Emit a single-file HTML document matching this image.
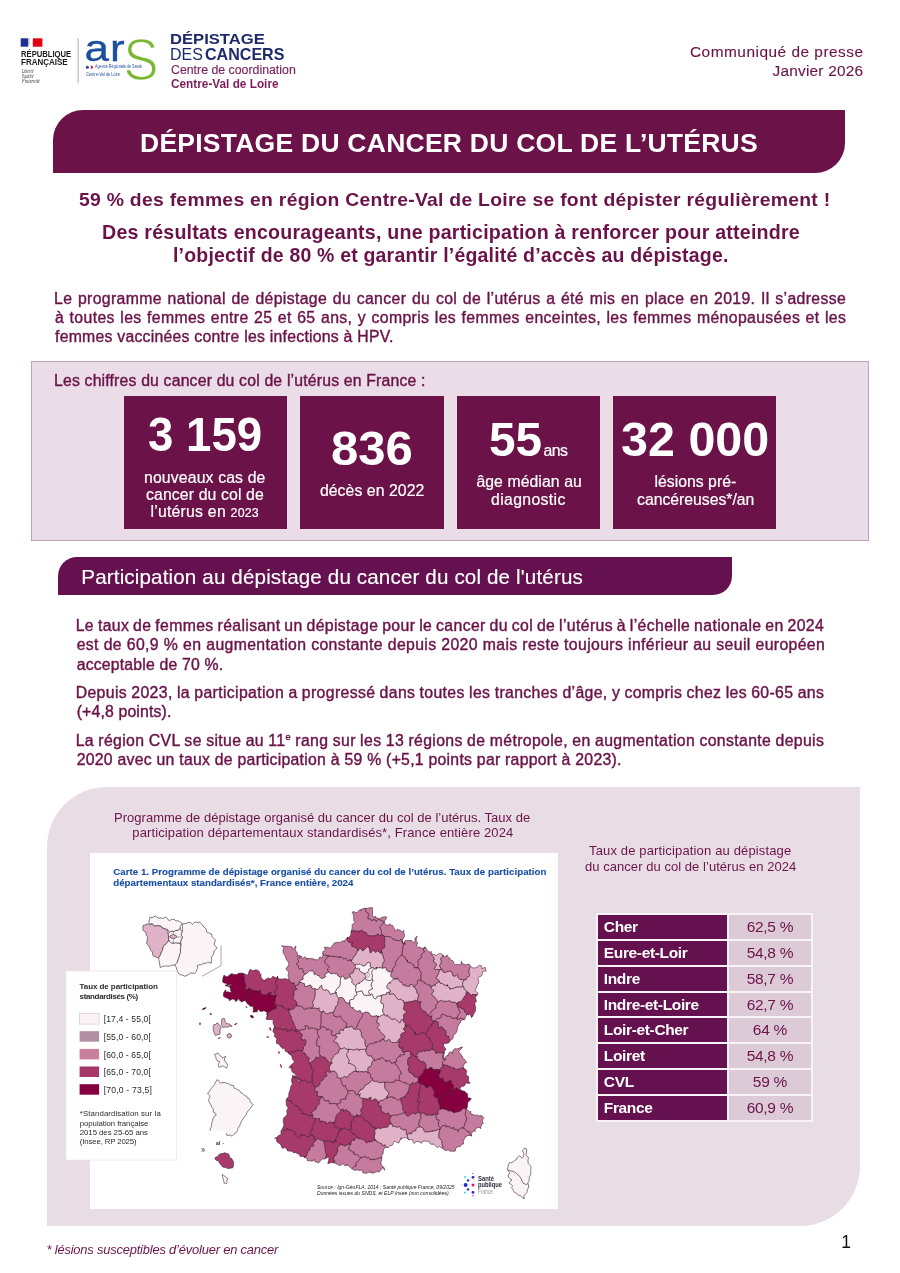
<!DOCTYPE html>
<html lang="fr"><head><meta charset="utf-8"><title>Dépistage du cancer du col de l’utérus</title>
<style>
*{margin:0;padding:0;box-sizing:border-box}
html,body{width:900px;height:1273px;background:#fff;overflow:hidden}
body{position:relative;font-family:"Liberation Sans",sans-serif;color:#6b1349}
.t{position:absolute;white-space:pre}
.b{position:absolute}
.card{position:absolute;background:#6b1349;top:396.2px;height:132.4px}
table{position:absolute;left:596.3px;top:913.2px;border-collapse:separate;border-spacing:2px;background:#f8f3f6;font-size:15.5px}
td{height:23.8px;padding:1px 0 0 0;line-height:22.8px;vertical-align:middle}
td.n{width:128.6px;background:#65104f;color:#fff;font-weight:700;padding-left:5.5px;letter-spacing:-0.35px}
td.v{width:82px;background:#dccbd7;text-align:center;color:#6b1349;letter-spacing:-0.3px}
</style></head><body>

<div class="b" style="left:53px;top:110px;width:791.5px;height:63.3px;background:#6b1349;border-radius:30px 0 30px 0"></div>
<div class="b" style="left:31px;top:361px;width:838px;height:179.5px;background:#eadde7;border:1px solid #c3a0ba"></div>
<div class="card" style="left:123.7px;width:163px"></div>
<div class="card" style="left:299.7px;width:144.2px"></div>
<div class="card" style="left:456.6px;width:143.7px"></div>
<div class="card" style="left:613.2px;width:162.4px"></div>
<div class="b" style="left:57.9px;top:557.2px;width:673.7px;height:37.4px;background:#65104f;border-radius:19px 0 19px 0"></div>
<div class="b" style="left:46.7px;top:786.7px;width:813.5px;height:439.4px;background:#e9dde5;border-radius:60px 0 60px 0"></div>
<div class="b" style="left:90px;top:853.4px;width:468px;height:356px;background:#fff"></div>


<svg class="b" style="left:0;top:0" width="330" height="100" viewBox="0 0 330 100">
<rect x="20.7" y="38.3" width="7.6" height="8.4" fill="#1f2f8f"/>
<rect x="33" y="38.3" width="9.4" height="8.4" fill="#e1000f"/>
<path d="M28.3,38.3 L30.5,38.3 C29.5,40 29.5,41.5 30.3,43 C29.5,44.5 29,45.5 28.3,46.7Z" fill="#c9c9d6"/>
<path d="M33,38.3 C31.8,40 32.6,41.5 32,43 C32.6,44.5 32.2,45.7 33,46.7Z" fill="#f3b8bc"/>
<rect x="77.7" y="38" width="0.8" height="45.3" fill="#9b9b9b"/>
<text transform="translate(84.4,60.5) scale(1.19,1)" x="0" y="0" font-family="Liberation Sans, sans-serif" font-size="37" fill="#1b4f9c" stroke="#1b4f9c" stroke-width="0.35" letter-spacing="1">ar</text>
<text transform="translate(123.2,80) scale(0.9,1)" x="0" y="0" font-family="Liberation Sans, sans-serif" font-size="59" fill="#7ab733" stroke="#fff" stroke-width="1.5">S</text>
<circle cx="87.4" cy="67.3" r="1.5" fill="#1f3fae"/>
<path d="M90.3,65.8 L92,65.8 L93.3,67.3 L92,68.8 L90.3,68.8 L91.5,67.3Z" fill="#e1000f"/>
</svg>

<svg class="b" style="left:0;top:0" width="900" height="1273" viewBox="0 0 900 1273">
<g stroke="#3d1429" stroke-width="0.55" stroke-linejoin="round">
<path d="M431.7,1049.1 430.3,1050.3 427.8,1050.5 425.8,1049.9 425.4,1050.3 425.5,1051.3 424.7,1051.0 423.1,1050.6 421.5,1051.5 420.5,1052.1 419.8,1051.3 418.6,1051.8 416.7,1054.8 414.8,1056.6 413.2,1055.1 415.2,1056.4 417.2,1056.3 417.5,1056.6 416.9,1058.1 417.6,1059.3 419.0,1059.7 419.4,1060.2 419.7,1061.1 421.5,1061.6 423.7,1062.1 425.1,1063.3 425.6,1064.4 425.9,1065.3 425.8,1067.1 426.2,1069.2 427.1,1069.5 428.5,1068.8 431.0,1067.3 431.8,1067.7 432.5,1069.1 433.3,1069.5 433.2,1069.8 434.0,1069.8 436.9,1069.4 439.4,1069.8 440.4,1070.6 440.0,1069.9 440.5,1068.4 442.3,1067.2 443.8,1066.7 443.5,1066.4 442.4,1065.6 442.7,1064.4 442.6,1062.5 443.6,1060.9 445.1,1059.8 446.1,1059.2 445.8,1059.2 444.5,1059.2 443.2,1058.7 442.7,1057.4 443.1,1055.4 443.7,1053.2 443.3,1052.6 441.3,1052.8 438.7,1052.7 437.0,1052.6 436.0,1053.4 435.8,1053.4 436.0,1051.7 434.8,1050.5 433.3,1049.8 432.1,1049.3 431.7,1049.0Z" fill="#c47b9d"/>
<path d="M402.1,954.4 402.3,953.8 402.3,953.1 402.3,952.4 402.3,951.6 402.6,949.7 403.0,947.5 403.4,945.2 404.2,943.7 405.1,943.5 405.4,944.0 404.8,944.3 402.6,943.1 401.4,940.1 400.8,939.0 400.1,940.1 399.6,940.7 397.6,940.5 394.7,939.9 393.9,938.6 394.0,938.5 392.7,939.0 391.5,937.9 390.5,936.6 388.2,936.6 386.1,936.4 385.1,936.3 384.3,936.6 384.4,938.5 384.8,939.8 384.8,940.5 384.5,941.4 384.3,943.3 384.6,945.5 384.9,947.0 384.3,947.5 382.9,948.0 381.6,949.5 381.4,951.7 381.8,951.7 382.2,953.0 382.5,953.8 382.6,954.5 382.9,956.0 383.4,957.9 384.1,959.7 384.2,960.8 383.7,961.7 382.8,963.1 382.3,965.3 382.3,967.4 382.9,968.3 385.0,967.7 386.3,968.3 386.5,970.1 386.9,970.7 387.5,971.0 388.8,972.0 391.5,971.8 392.8,970.4 393.0,969.0 392.9,968.2 393.6,967.6 394.9,966.6 395.8,965.4 395.7,964.3 395.5,963.3 396.0,961.9 397.0,960.2 398.0,958.7 398.7,957.7 399.5,957.1 400.5,956.1 401.3,954.9Z" fill="#c47b9d"/>
<path d="M374.5,1060.3 374.4,1060.9 375.6,1060.2 378.3,1059.1 379.6,1059.5 379.4,1059.9 380.1,1058.6 382.3,1057.8 384.3,1059.5 385.5,1060.6 386.4,1060.6 386.2,1060.7 385.8,1061.5 386.7,1061.3 389.1,1060.7 390.5,1061.5 391.0,1063.2 392.6,1063.3 394.9,1062.3 396.9,1061.2 397.0,1061.5 396.2,1060.9 397.0,1058.4 399.5,1056.3 400.7,1056.2 399.9,1056.6 399.8,1055.7 401.8,1054.7 404.2,1054.8 404.7,1054.5 404.3,1052.6 403.0,1052.1 402.0,1050.8 402.4,1048.7 403.2,1047.5 402.4,1047.9 400.3,1048.3 398.9,1046.9 399.0,1044.5 399.7,1043.1 399.8,1042.6 399.1,1042.1 397.6,1042.1 394.6,1042.5 392.0,1042.6 391.3,1041.8 391.0,1041.4 389.9,1040.8 389.3,1039.4 388.9,1039.2 387.1,1040.6 385.0,1041.2 384.3,1040.2 384.0,1039.0 382.4,1039.0 380.7,1040.0 380.7,1040.6 381.1,1040.7 379.5,1041.2 376.6,1042.2 375.4,1042.4 376.1,1041.8 376.0,1041.9 373.8,1043.1 371.6,1043.8 370.4,1043.5 369.7,1043.5 368.5,1044.6 367.4,1046.1 366.6,1047.4 366.5,1048.6 366.3,1049.2 366.0,1049.1 365.6,1049.0 366.0,1049.3 365.7,1050.4 365.6,1051.9 366.5,1053.3 367.5,1055.0 368.6,1056.2 370.0,1056.0 371.2,1055.9 371.8,1057.3 372.9,1059.0 374.3,1059.6Z" fill="#c47b9d"/>
<path d="M440.7,1128.0 441.6,1126.5 442.9,1125.6 445.6,1125.4 446.9,1126.1 445.9,1127.1 445.7,1127.1 447.9,1126.5 450.2,1127.3 451.2,1128.6 452.5,1128.2 453.3,1127.2 453.4,1127.6 453.8,1129.2 456.7,1129.7 458.5,1130.6 457.8,1131.5 457.9,1130.6 460.2,1128.4 462.3,1127.9 462.9,1128.6 463.5,1128.3 463.4,1127.9 463.9,1126.9 464.5,1125.4 464.8,1124.0 465.1,1123.4 465.6,1122.8 466.2,1121.3 466.6,1119.0 466.4,1116.9 465.9,1115.8 465.4,1115.3 465.3,1114.1 465.6,1111.9 466.0,1109.7 466.3,1108.7 465.0,1108.6 465.8,1108.5 466.5,1108.5 464.4,1108.2 463.2,1108.0 463.1,1108.4 462.1,1109.5 460.5,1110.7 460.2,1111.1 459.8,1111.2 457.2,1111.8 453.9,1112.4 453.0,1112.2 453.5,1110.9 453.4,1111.5 452.4,1111.5 450.9,1110.8 448.7,1110.8 447.8,1110.6 447.7,1109.7 445.6,1109.4 443.0,1108.8 442.2,1108.5 441.5,1109.3 440.3,1109.0 439.9,1109.2 438.6,1109.9 437.7,1111.8 438.0,1113.6 438.3,1114.0 437.4,1113.9 435.8,1114.7 436.0,1117.0 436.4,1119.1 437.2,1120.2 438.3,1120.0 438.9,1119.8 438.8,1120.7 438.4,1122.9 438.5,1125.5 439.5,1127.2Z" fill="#c47b9d"/>
<path d="M440.3,1109.0 441.5,1109.3 442.2,1108.5 443.0,1108.8 445.6,1109.4 447.7,1109.7 447.8,1110.6 448.7,1110.8 450.9,1110.8 452.4,1111.5 453.4,1111.5 453.5,1110.9 453.0,1112.2 453.9,1112.4 457.2,1111.8 459.8,1111.2 460.2,1111.1 460.5,1110.7 462.1,1109.5 463.1,1108.4 463.2,1108.0 464.4,1108.2 466.5,1108.5 467.2,1107.8 467.5,1105.9 467.6,1103.8 468.0,1102.2 469.0,1101.2 470.4,1100.1 471.2,1098.7 470.7,1098.2 469.5,1098.1 468.3,1097.9 467.6,1097.1 467.5,1095.8 467.7,1094.3 467.2,1093.6 466.2,1093.0 465.1,1091.8 463.5,1091.5 462.1,1092.2 462.2,1092.2 462.4,1091.5 460.4,1090.5 457.7,1088.9 456.6,1087.5 455.8,1088.2 454.3,1089.5 453.2,1089.8 452.6,1088.9 451.7,1089.7 450.6,1092.4 449.4,1093.8 447.8,1092.9 446.3,1092.3 445.7,1093.7 445.3,1095.5 443.9,1096.0 442.3,1096.0 442.0,1096.4 442.3,1096.8 441.2,1097.4 439.3,1098.8 438.3,1100.4 438.1,1101.6 438.0,1102.1 438.3,1102.4 438.8,1103.2 439.3,1104.8 439.7,1107.0Z" fill="#86003f"/>
<path d="M463.5,1128.3 464.5,1128.4 465.4,1129.6 466.8,1131.1 468.2,1131.5 469.1,1131.5 469.4,1132.6 470.1,1134.4 471.7,1135.9 471.3,1134.5 472.2,1132.1 474.5,1130.9 475.6,1131.2 475.0,1130.8 475.5,1128.8 478.1,1127.3 480.4,1127.7 480.8,1128.8 480.4,1128.3 481.1,1126.1 482.0,1123.9 483.0,1123.0 483.4,1123.2 483.1,1123.5 482.5,1122.7 482.3,1120.9 482.8,1119.3 483.5,1118.6 483.9,1118.2 482.7,1116.6 481.8,1115.5 480.1,1115.8 478.3,1115.7 477.1,1114.9 475.7,1115.2 474.4,1115.5 474.2,1115.1 473.0,1114.6 470.9,1113.7 470.7,1112.0 471.0,1111.5 469.5,1111.8 467.8,1110.3 466.3,1108.7 466.0,1109.7 465.6,1111.9 465.3,1114.1 465.4,1115.3 465.9,1115.8 466.4,1116.9 466.6,1119.0 466.2,1121.3 465.6,1122.8 465.1,1123.4 464.8,1124.0 464.5,1125.4 463.9,1126.9 463.4,1127.9Z" fill="#c47b9d"/>
<path d="M421.0,1083.7 419.8,1083.5 418.7,1082.8 418.2,1081.5 418.2,1081.3 417.0,1082.0 414.7,1083.4 413.2,1083.4 413.0,1082.2 412.7,1082.2 411.1,1084.3 409.7,1086.2 408.9,1087.2 409.1,1087.6 409.0,1088.9 408.2,1091.2 407.5,1093.0 407.8,1093.0 408.2,1092.4 407.4,1093.0 405.6,1094.9 404.6,1096.6 405.4,1097.0 404.6,1096.9 402.2,1097.3 400.3,1098.6 400.8,1100.6 401.2,1102.5 401.5,1103.7 401.9,1104.1 402.2,1104.5 402.4,1105.5 402.5,1107.5 402.9,1109.7 403.6,1111.3 404.6,1112.1 405.3,1112.2 405.6,1112.5 404.9,1113.5 405.5,1114.5 406.8,1115.8 407.8,1116.0 409.7,1115.3 411.5,1113.8 412.3,1113.1 413.5,1113.6 415.5,1113.9 416.7,1113.4 416.4,1112.8 416.5,1112.5 418.6,1112.4 418.8,1111.7 418.7,1111.1 418.4,1109.8 418.1,1107.6 418.2,1105.4 418.9,1103.8 419.7,1102.7 420.4,1101.7 419.4,1101.6 417.8,1101.7 417.4,1100.1 417.8,1098.8 418.7,1098.2 419.3,1097.6 419.2,1096.2 418.9,1094.0 418.9,1091.9 419.5,1090.6 420.1,1089.7 420.2,1088.5 420.1,1086.9 420.4,1085.3 420.8,1084.3Z" fill="#a73a6b"/>
<path d="M404.8,944.3 405.4,944.0 405.1,943.5 404.2,943.7 403.4,945.2 403.0,947.5 402.6,949.7 402.3,951.6 402.3,952.4 402.3,953.1 402.3,953.8 402.1,954.4 403.0,956.1 404.4,957.3 405.5,957.7 405.6,958.7 405.9,960.1 407.1,960.5 407.9,960.2 407.2,960.7 407.0,961.9 408.9,962.7 411.4,963.3 412.7,964.2 413.2,964.9 413.7,964.8 413.7,966.0 414.4,967.9 416.6,967.9 417.6,966.6 418.7,965.1 418.7,963.6 418.0,962.1 418.1,960.5 419.7,959.0 421.5,958.1 422.0,957.6 421.4,957.0 421.1,955.7 422.1,953.9 423.8,952.2 424.8,951.7 424.3,951.6 423.3,950.6 423.5,948.8 425.5,947.5 425.3,946.9 425.0,946.7 424.3,947.6 422.3,948.5 420.8,947.8 419.6,947.1 417.6,947.2 416.5,946.3 417.1,944.4 417.7,943.1 417.7,942.5 417.2,942.0 416.3,941.2 416.1,939.9 416.2,939.1 416.4,938.5 416.9,937.6 417.0,936.1 416.3,937.2 415.4,937.7 415.0,938.5 414.9,940.1 414.7,942.1 413.9,943.2 412.2,941.1 410.5,940.2 410.5,940.0 410.7,940.3 409.4,940.6 407.0,940.4 405.2,940.6 404.3,942.1 404.5,943.7Z" fill="#c47b9d"/>
<path d="M340.2,1143.2 340.5,1144.5 339.7,1145.3 338.3,1146.4 337.5,1148.3 337.5,1150.2 337.8,1151.5 337.5,1152.3 336.9,1152.9 336.6,1153.7 336.1,1154.6 335.1,1155.8 333.8,1157.2 333.4,1158.8 334.0,1160.3 334.7,1161.7 334.3,1162.9 335.9,1163.2 336.1,1164.0 336.6,1164.0 337.7,1164.2 338.6,1165.3 340.4,1165.4 342.5,1164.0 343.4,1163.9 344.3,1165.3 346.2,1165.8 346.8,1164.9 346.8,1164.3 347.1,1164.0 346.9,1164.9 348.0,1165.5 349.6,1166.6 350.8,1168.0 351.8,1168.8 352.4,1168.6 353.7,1167.0 355.8,1166.1 356.6,1165.8 356.1,1165.1 355.9,1163.8 356.8,1162.3 358.0,1161.6 358.5,1161.2 358.8,1160.1 359.9,1158.6 361.6,1157.6 359.4,1156.9 358.1,1155.3 357.5,1154.4 355.7,1154.7 354.0,1154.2 354.0,1152.5 354.2,1151.9 353.6,1152.2 352.4,1151.6 350.7,1150.3 348.7,1149.6 349.0,1147.5 349.8,1145.2 350.4,1143.9 348.9,1143.9 346.0,1145.3 344.4,1145.9 344.4,1145.5 343.3,1145.1 341.1,1144.5 340.0,1143.3Z" fill="#c47b9d"/>
<path d="M397.5,978.0 396.0,978.3 395.7,979.1 396.2,978.9 394.7,978.8 392.5,979.9 390.3,982.0 390.1,983.2 390.4,982.8 389.0,982.6 387.6,984.4 386.6,986.2 386.8,987.7 388.2,988.9 389.9,990.0 390.6,991.0 390.2,991.9 390.1,992.1 388.8,993.2 389.1,994.4 391.7,994.2 393.8,993.9 394.4,994.7 395.1,996.0 396.5,997.4 397.4,999.0 398.4,999.7 399.9,999.4 400.8,999.1 401.6,1000.1 403.0,1000.7 403.7,1000.8 403.7,1000.9 403.4,1001.8 403.8,1002.5 406.6,1002.3 409.5,1001.9 411.2,1001.8 412.4,1001.2 413.0,1000.9 413.1,1001.7 413.6,1001.7 414.5,1000.5 415.6,1000.3 417.8,1001.5 418.3,1001.7 417.5,1000.5 417.8,998.3 418.5,995.8 418.9,994.3 418.6,993.9 417.8,993.8 417.1,993.2 416.8,991.8 416.6,990.2 416.0,989.0 415.0,988.2 414.2,987.3 413.6,986.1 412.2,984.3 410.0,984.5 409.5,985.7 410.0,986.2 408.3,986.1 405.3,985.9 404.9,984.6 404.9,984.5 403.9,985.2 402.8,984.8 402.4,983.2 401.7,982.3 400.0,981.8 398.5,980.1Z" fill="#dfb2c7"/>
<path d="M358.1,1137.4 357.9,1137.6 357.2,1137.1 356.2,1137.5 354.7,1139.2 354.3,1140.4 354.6,1139.8 353.7,1139.4 351.6,1141.3 350.4,1144.0 350.6,1144.6 350.4,1143.9 349.8,1145.2 349.0,1147.5 348.7,1149.6 350.7,1150.3 352.4,1151.6 353.6,1152.2 354.2,1151.9 354.0,1152.5 354.0,1154.2 355.7,1154.7 357.5,1154.4 358.1,1155.3 359.4,1156.9 361.6,1157.6 362.9,1157.4 362.8,1157.7 363.2,1157.4 364.4,1156.6 365.2,1156.2 366.1,1157.6 367.5,1157.9 368.8,1157.5 369.4,1158.0 369.9,1159.6 372.0,1159.7 373.6,1159.1 373.5,1159.2 373.3,1159.8 374.9,1159.5 377.4,1158.6 378.9,1158.3 379.9,1158.1 381.1,1157.5 381.8,1157.4 381.9,1155.8 382.3,1154.6 382.9,1154.1 383.1,1154.0 383.2,1152.8 383.3,1151.2 383.7,1149.7 384.2,1148.9 384.2,1148.5 384.3,1147.6 385.3,1147.6 387.2,1147.6 385.4,1145.8 385.2,1144.5 384.2,1145.3 382.7,1145.5 382.0,1144.0 380.9,1143.1 379.5,1142.9 378.8,1142.2 378.2,1141.9 377.3,1142.0 377.1,1141.2 376.0,1140.2 372.7,1140.8 369.7,1141.9 369.4,1142.0 370.0,1141.2 368.8,1141.3 366.6,1142.9 365.9,1142.2 365.6,1141.2 364.8,1140.8 364.0,1140.1 362.9,1139.1 360.4,1138.8 358.0,1138.5 357.7,1137.7Z" fill="#c47b9d"/>
<path d="M378.9,1103.6 378.8,1101.6 377.1,1100.0 375.4,1098.8 374.3,1099.1 372.1,1100.6 370.5,1100.3 371.2,1098.7 371.0,1097.2 368.9,1097.9 367.6,1099.0 367.0,1098.9 365.0,1098.3 362.6,1098.4 362.9,1099.7 362.7,1101.7 362.2,1103.5 362.3,1104.4 362.9,1105.0 362.9,1106.2 361.8,1108.1 360.6,1109.9 360.5,1111.1 361.2,1112.1 361.5,1113.3 360.4,1114.8 358.9,1116.1 361.0,1116.4 362.0,1117.2 363.4,1117.8 364.4,1118.6 364.2,1120.3 364.7,1121.2 366.6,1121.2 366.8,1121.3 368.5,1122.4 369.8,1123.9 370.8,1124.2 370.7,1124.5 370.5,1126.0 372.0,1127.2 374.4,1127.3 375.3,1127.9 375.1,1129.5 376.5,1129.1 378.3,1127.9 379.4,1128.0 379.9,1129.0 380.5,1129.0 381.4,1128.1 383.1,1127.7 385.9,1127.6 388.1,1126.8 388.3,1126.0 388.0,1125.8 388.7,1124.9 390.0,1124.3 391.3,1123.9 391.5,1123.2 391.1,1122.6 390.2,1121.6 389.6,1120.2 389.9,1118.7 390.7,1117.5 391.2,1116.3 390.6,1115.3 389.0,1114.6 388.5,1113.1 387.9,1113.0 385.6,1113.8 384.0,1113.0 383.6,1111.9 382.5,1111.7 381.0,1110.5 381.4,1108.5 381.4,1106.7 380.8,1105.8 379.9,1106.1 379.1,1106.5 378.8,1105.7Z" fill="#a73a6b"/>
<path d="M408.6,1139.5 408.8,1139.9 409.9,1140.0 411.8,1139.4 412.8,1140.0 413.0,1142.2 414.0,1143.5 415.1,1142.8 415.9,1141.6 418.1,1141.6 421.0,1142.4 421.6,1143.4 421.4,1143.3 422.1,1141.7 423.9,1140.9 425.1,1141.0 425.4,1141.0 426.1,1141.6 428.0,1141.1 429.3,1141.9 430.4,1143.9 432.4,1144.6 433.4,1144.1 433.0,1143.7 433.2,1143.9 434.3,1144.5 435.5,1146.0 437.0,1147.3 438.7,1147.1 439.8,1146.0 440.0,1146.5 441.0,1147.8 443.0,1148.4 442.9,1146.9 442.6,1145.7 442.3,1145.0 442.2,1144.4 442.1,1143.4 442.0,1141.9 441.5,1140.4 440.7,1139.3 439.7,1138.6 439.0,1137.7 438.8,1135.8 439.1,1133.0 439.7,1130.1 440.1,1128.4 440.0,1128.3 439.2,1129.0 437.0,1129.9 436.1,1130.7 435.6,1130.7 434.0,1130.5 432.4,1130.9 432.3,1131.4 432.5,1131.3 430.5,1131.3 427.5,1132.1 426.6,1131.2 426.5,1131.4 425.2,1132.2 424.1,1130.7 423.5,1128.4 422.3,1127.7 421.2,1127.2 420.0,1126.5 419.1,1126.9 417.8,1127.4 416.2,1128.4 415.6,1129.7 416.1,1130.4 415.9,1130.5 413.7,1131.1 411.4,1132.8 410.8,1134.1 411.0,1133.6 409.7,1133.0 407.3,1134.3 407.2,1136.0 407.8,1137.9Z" fill="#dfb2c7"/>
<path d="M306.2,957.9 305.0,956.7 303.3,958.0 302.2,958.1 301.3,956.3 299.7,957.2 297.9,958.4 297.4,959.6 298.1,960.6 298.6,961.8 297.7,962.9 296.2,963.6 297.5,964.7 298.4,966.5 298.6,968.4 299.5,969.0 301.4,968.5 302.6,968.9 302.8,970.7 303.2,972.2 303.9,973.1 304.7,974.3 305.3,974.4 307.0,973.3 308.8,971.4 309.9,970.6 311.0,971.0 312.7,971.2 313.8,972.2 314.0,973.9 314.3,974.7 315.5,974.2 316.4,974.5 317.2,975.5 318.5,975.6 319.3,975.5 319.6,976.9 321.1,978.5 324.1,978.0 325.6,976.7 325.3,975.5 324.9,974.7 325.8,973.9 327.6,972.7 328.8,972.1 328.0,970.8 327.7,969.4 328.2,968.1 329.1,967.2 329.3,966.5 328.4,965.7 326.7,964.5 325.1,962.9 324.7,961.2 325.4,959.7 326.6,958.3 327.5,956.9 327.4,955.4 325.4,955.3 323.5,954.9 322.8,954.1 322.9,953.4 323.1,954.5 322.9,955.9 322.3,957.3 321.8,958.3 320.5,956.7 319.2,957.5 318.6,959.9 318.2,960.4 317.0,959.5 315.5,959.7 315.1,960.2 314.8,959.6 312.4,958.6 308.3,958.5 306.8,958.6 307.7,959.2 307.4,959.5Z" fill="#c47b9d"/>
<path d="M356.0,1094.6 358.7,1094.9 360.5,1093.9 359.9,1094.5 359.3,1096.6 360.2,1097.8 361.3,1098.2 362.6,1098.4 365.0,1098.3 367.0,1098.9 367.6,1099.0 368.9,1097.9 371.0,1097.2 371.2,1098.7 370.5,1100.3 372.1,1100.6 374.3,1099.1 375.4,1098.8 377.1,1100.0 378.8,1101.6 378.9,1103.6 379.1,1101.9 380.7,1100.1 382.1,1100.4 382.0,1101.2 382.7,1100.3 385.5,1098.5 387.9,1097.9 387.5,1098.0 386.7,1097.4 387.1,1096.2 388.2,1094.9 388.9,1093.7 388.4,1092.4 387.2,1090.9 385.9,1089.4 385.1,1088.4 384.9,1087.9 384.9,1087.3 384.9,1086.2 384.8,1084.3 384.7,1082.1 383.8,1082.0 382.3,1082.3 380.6,1082.6 379.2,1082.2 377.6,1081.9 376.8,1081.3 376.8,1080.9 375.4,1081.3 373.2,1081.0 372.5,1079.5 371.7,1080.2 370.7,1081.1 370.0,1082.2 369.2,1083.1 367.7,1083.9 366.0,1084.6 365.2,1084.9 365.1,1085.4 364.4,1086.8 362.8,1088.9 361.6,1090.0 361.3,1089.4 360.7,1089.2 359.2,1091.3 357.7,1094.2 356.6,1095.1 355.6,1094.2Z" fill="#dfb2c7"/>
<path d="M331.4,1071.6 329.8,1070.2 329.4,1067.8 330.4,1065.1 331.8,1063.3 332.7,1062.7 332.4,1062.9 331.0,1062.9 328.5,1061.9 327.4,1060.0 326.8,1059.4 326.4,1059.2 326.0,1058.1 324.0,1057.1 321.6,1056.4 320.8,1055.6 320.1,1055.6 319.0,1058.2 318.3,1058.6 317.4,1057.2 316.3,1056.8 315.4,1058.3 314.5,1059.8 313.5,1060.3 312.5,1060.9 311.5,1062.2 309.9,1062.8 309.7,1063.2 309.6,1063.6 309.5,1064.3 311.0,1065.4 311.3,1066.9 311.2,1068.3 311.7,1068.6 312.9,1068.7 313.8,1069.6 313.1,1071.0 312.4,1073.3 312.0,1075.7 311.8,1077.2 311.8,1077.9 311.8,1078.4 312.0,1079.3 312.2,1080.6 312.2,1081.5 311.9,1082.0 312.5,1082.9 313.1,1084.5 313.9,1085.9 314.6,1086.6 314.9,1087.7 315.3,1086.5 315.7,1086.8 316.9,1087.0 318.8,1085.9 320.0,1084.1 320.1,1082.7 320.5,1081.6 322.2,1080.5 323.8,1079.5 323.7,1078.7 323.1,1077.9 324.0,1077.2 326.2,1076.7 327.2,1075.8 326.4,1074.2 325.9,1072.3 327.1,1071.5 328.9,1071.8 329.5,1072.8 330.1,1072.7Z" fill="#a73a6b"/>
<path d="M289.2,1067.6 290.7,1068.2 292.5,1067.5 292.8,1067.2 291.8,1068.6 291.5,1070.8 292.8,1072.5 294.3,1073.6 295.3,1074.2 295.6,1074.4 295.7,1074.5 296.1,1075.0 296.7,1076.2 297.5,1077.9 299.0,1079.1 300.6,1079.1 300.9,1079.4 301.2,1080.5 303.3,1080.5 305.3,1080.2 305.9,1081.4 307.1,1082.5 308.9,1082.4 309.7,1082.3 310.5,1082.2 311.9,1082.0 312.2,1081.5 312.2,1080.6 312.0,1079.3 311.8,1078.4 311.8,1077.9 311.8,1077.2 312.0,1075.7 312.4,1073.3 313.1,1071.0 313.8,1069.6 312.9,1068.7 311.7,1068.6 311.2,1068.3 311.3,1066.9 311.0,1065.4 309.5,1064.3 309.6,1063.6 309.7,1063.2 309.9,1062.8 308.5,1062.1 308.5,1060.6 309.3,1058.9 309.3,1057.8 307.9,1057.0 306.3,1055.7 305.5,1054.1 305.1,1053.1 304.1,1052.9 302.9,1052.6 302.3,1051.2 301.7,1050.4 300.7,1050.5 299.1,1050.6 297.9,1050.1 296.6,1050.3 294.9,1051.4 294.4,1051.7 294.7,1051.4 293.6,1051.8 290.8,1052.4 288.6,1052.0 287.6,1051.9 288.1,1052.6 288.9,1054.0 290.3,1054.9 291.5,1055.2 291.9,1056.4 292.0,1057.9 292.5,1059.3 293.3,1060.3 294.1,1061.0 294.4,1061.7 293.7,1062.7 292.4,1063.9 290.8,1065.2 289.7,1066.6ZM292.1,1075.4 292.6,1075.6 292.9,1075.6 292.7,1076.2 292.3,1077.5 295.6,1077.4 296.1,1077.8 295.7,1077.7 296.4,1077.1 295.6,1076.3 295.3,1075.9 295.5,1075.7 295.1,1075.7 293.6,1075.9Z" fill="#a73a6b"/>
<path d="M378.1,1016.1 377.4,1016.1 376.6,1015.9 376.7,1015.3 375.3,1015.9 372.2,1016.3 370.1,1014.7 369.4,1013.4 369.1,1013.4 369.0,1013.0 368.0,1012.3 365.3,1012.1 364.1,1012.7 363.6,1013.4 362.7,1014.5 362.5,1014.9 362.6,1015.3 362.2,1016.5 361.1,1018.2 360.2,1019.3 359.9,1019.5 359.5,1020.4 358.4,1022.8 357.1,1025.6 356.7,1026.9 356.8,1026.9 356.1,1027.2 354.4,1029.0 356.2,1029.6 358.6,1029.1 359.9,1029.6 360.4,1031.5 361.2,1032.5 361.8,1032.3 361.5,1032.5 361.2,1034.2 361.4,1035.8 362.3,1037.4 363.6,1038.6 364.6,1039.5 365.0,1040.1 364.9,1040.9 364.7,1042.2 364.9,1043.9 365.6,1045.8 366.6,1047.4 367.4,1046.1 368.5,1044.6 369.7,1043.5 370.4,1043.5 371.6,1043.8 373.8,1043.1 376.0,1041.9 376.1,1041.8 375.4,1042.4 376.6,1042.2 379.5,1041.2 381.1,1040.7 380.7,1040.6 380.7,1040.0 382.4,1039.0 384.0,1039.0 384.3,1038.2 384.7,1037.5 385.1,1036.9 385.1,1036.6 384.5,1035.7 383.2,1034.2 381.3,1032.7 379.9,1031.3 379.5,1030.0 379.3,1029.2 378.2,1028.7 377.0,1027.7 378.5,1026.1 379.4,1024.5 379.0,1023.5 377.9,1023.2 377.0,1022.8 377.0,1021.3 377.6,1018.7Z" fill="#c47b9d"/>
<path d="M354.8,1091.5 355.0,1092.7 355.6,1094.2 356.6,1095.1 357.7,1094.2 359.2,1091.3 360.7,1089.2 361.3,1089.4 361.6,1090.0 362.8,1088.9 364.4,1086.8 365.1,1085.4 365.2,1084.9 366.0,1084.6 367.7,1083.9 369.2,1083.1 370.0,1082.2 370.7,1081.1 371.7,1080.2 372.5,1079.5 372.9,1078.2 372.6,1078.3 371.6,1078.4 370.8,1077.1 370.6,1075.0 370.1,1073.6 369.0,1072.9 367.8,1072.2 365.8,1071.3 363.4,1071.9 362.7,1072.2 363.1,1071.5 361.4,1071.5 358.7,1071.8 358.2,1071.3 358.4,1070.9 357.6,1071.7 356.8,1071.4 354.3,1071.1 352.3,1072.1 351.6,1073.2 350.8,1073.4 349.5,1073.9 348.6,1075.4 348.0,1076.8 346.6,1076.9 344.7,1076.5 343.8,1076.5 343.7,1076.9 342.8,1077.4 341.0,1078.1 340.3,1079.0 340.7,1079.8 341.1,1080.6 341.4,1081.5 341.7,1082.1 341.9,1084.3 343.2,1086.0 345.2,1085.8 345.8,1085.6 345.5,1086.7 345.9,1088.1 346.7,1089.0 347.1,1090.1 348.2,1090.8 351.1,1090.5 353.4,1090.7 354.0,1091.5 354.3,1091.6Z" fill="#c47b9d"/>
<path d="M417.8,1001.5 415.6,1000.3 414.5,1000.5 413.6,1001.7 413.1,1001.7 413.0,1000.9 412.4,1001.2 411.2,1001.8 409.5,1001.9 406.6,1002.3 403.8,1002.5 403.4,1001.8 404.1,1003.0 404.2,1005.1 403.6,1007.4 403.3,1009.1 404.0,1010.1 405.4,1010.8 406.2,1011.7 405.6,1012.7 404.3,1013.7 403.4,1014.7 403.3,1015.9 403.6,1017.4 403.5,1018.8 402.9,1019.5 402.5,1020.0 403.7,1022.1 405.1,1023.7 405.0,1024.9 405.0,1025.8 405.1,1025.9 406.8,1025.5 408.8,1025.4 409.7,1026.5 410.6,1028.1 412.1,1029.4 413.4,1031.2 414.5,1032.7 415.4,1032.5 415.5,1032.0 414.8,1033.1 415.5,1034.9 418.5,1034.3 420.8,1033.5 421.1,1033.4 421.4,1033.0 422.8,1032.4 424.2,1033.2 425.0,1034.4 425.8,1034.3 426.5,1032.4 427.9,1030.3 428.9,1029.0 428.9,1028.4 428.8,1027.8 429.7,1026.8 430.9,1026.2 431.8,1026.1 431.9,1025.8 432.0,1024.6 432.6,1023.0 433.7,1021.5 433.2,1020.9 431.6,1019.1 431.7,1016.8 432.2,1015.6 431.6,1015.8 429.8,1016.3 428.5,1015.7 428.3,1015.2 427.8,1014.9 426.6,1013.5 425.6,1011.6 424.0,1011.5 423.0,1011.5 422.8,1011.1 422.7,1010.3 422.1,1009.4 420.9,1008.2 420.1,1006.4 420.4,1004.0 421.2,1002.1 421.2,1001.5 419.7,1001.7Z" fill="#a73a6b"/>
<path d="M259.0,971.1 258.0,970.7 257.0,970.0 255.7,969.8 253.6,970.6 251.9,970.7 251.3,969.6 250.1,969.4 249.1,971.0 248.4,973.4 248.1,975.1 247.5,975.2 246.5,974.6 245.3,974.4 244.2,973.5 243.3,973.4 243.6,975.1 244.0,976.7 244.1,978.2 244.0,979.4 244.0,980.7 244.5,982.2 245.3,983.8 245.9,985.0 246.1,985.2 245.5,986.5 245.0,988.6 245.7,989.8 247.4,989.4 248.8,988.6 249.3,988.2 251.1,989.6 253.3,990.7 253.8,991.0 253.6,990.9 255.4,990.6 258.0,991.1 259.0,991.9 259.3,990.9 260.6,989.9 260.5,990.5 260.5,993.2 262.2,994.9 264.9,995.0 265.7,995.3 266.5,994.8 269.0,992.9 271.0,992.2 270.7,993.6 269.9,994.8 270.0,994.9 271.6,995.4 274.9,995.8 276.8,995.7 276.6,995.2 275.5,993.9 274.8,992.1 275.4,990.1 276.9,988.0 277.8,986.3 277.2,985.2 275.9,984.4 275.4,983.3 276.1,981.5 277.2,979.2 277.6,977.3 277.6,976.3 277.5,976.6 276.3,977.7 274.9,977.6 274.0,976.5 272.8,976.2 271.5,978.1 270.6,979.0 270.0,978.5 268.5,977.9 266.1,979.0 264.8,980.6 265.1,981.3 265.0,980.4 263.6,980.0 261.8,978.8 260.9,976.4 261.0,974.3 261.1,973.9 260.7,974.4 260.1,974.3 259.6,973.0Z" fill="#a73a6b"/>
<path d="M347.9,1049.7 348.2,1051.1 347.9,1052.2 347.3,1052.8 346.6,1053.5 346.4,1054.7 347.1,1056.5 348.1,1058.5 349.0,1060.2 349.2,1061.3 348.8,1062.1 348.0,1062.8 348.4,1063.4 350.3,1063.7 352.1,1064.5 353.6,1065.4 355.0,1066.2 355.7,1067.8 355.7,1070.1 356.5,1071.3 357.6,1071.7 358.4,1070.9 358.2,1071.3 358.7,1071.8 361.4,1071.5 363.1,1071.5 362.7,1072.2 363.4,1071.9 365.8,1071.3 367.8,1072.2 368.0,1072.8 368.0,1072.2 368.0,1069.8 368.2,1067.6 368.8,1066.9 370.0,1066.9 371.2,1065.8 371.8,1063.5 372.3,1061.5 373.2,1060.7 374.5,1060.3 374.3,1059.6 372.9,1059.0 371.8,1057.3 371.2,1055.9 370.0,1056.0 368.6,1056.2 367.5,1055.0 366.5,1053.3 365.6,1051.9 365.7,1050.4 366.0,1049.3 365.6,1049.0 362.4,1049.4 359.5,1049.5 359.1,1049.6 359.2,1050.4 358.6,1050.5 358.2,1049.0 357.1,1048.7 354.8,1049.8 352.7,1049.8 350.7,1049.3 348.4,1049.4 347.9,1049.2 348.7,1048.9Z" fill="#dfb2c7"/>
<path d="M340.3,1079.0 339.9,1078.1 339.3,1077.4 338.0,1077.5 337.1,1077.4 337.3,1076.3 337.4,1074.7 336.6,1073.2 335.6,1071.9 334.7,1071.0 333.0,1071.1 331.4,1071.6 330.1,1072.7 329.5,1072.8 328.9,1071.8 327.1,1071.5 325.9,1072.3 326.4,1074.2 327.2,1075.8 326.2,1076.7 324.0,1077.2 323.1,1077.9 323.7,1078.7 323.8,1079.5 322.2,1080.5 320.5,1081.6 320.1,1082.7 320.0,1084.1 318.8,1085.9 316.9,1087.0 315.7,1086.8 315.3,1086.5 314.9,1087.7 314.7,1089.2 314.7,1090.6 315.8,1091.5 317.4,1091.6 317.7,1092.0 317.0,1093.9 317.5,1096.1 320.0,1096.8 322.2,1096.7 322.4,1097.0 322.7,1096.9 323.2,1097.8 323.8,1099.6 325.0,1101.0 326.8,1100.9 328.5,1100.3 329.0,1101.2 329.3,1103.4 330.1,1104.3 330.5,1103.5 331.1,1103.5 334.2,1103.6 337.1,1104.0 337.0,1105.2 336.8,1105.7 337.1,1104.3 339.3,1103.2 341.1,1102.5 340.9,1101.5 340.0,1100.2 341.1,1099.3 343.9,1099.3 345.8,1099.1 345.9,1097.8 346.0,1095.9 347.4,1094.6 348.6,1094.2 348.4,1093.6 347.7,1092.2 348.2,1090.8 347.1,1090.1 346.7,1089.0 345.9,1088.1 345.5,1086.7 345.8,1085.6 345.2,1085.8 343.2,1086.0 341.9,1084.3 341.7,1082.1 341.4,1081.5 341.1,1080.6 340.7,1079.8Z" fill="#c47b9d"/>
<path d="M445.7,1031.0 445.9,1032.5 445.9,1034.3 445.7,1036.0 447.8,1036.4 448.9,1036.5 448.7,1037.2 448.7,1038.2 449.6,1039.1 450.4,1040.3 451.2,1039.5 452.1,1039.1 452.9,1038.7 453.2,1037.6 453.3,1036.1 453.8,1034.8 454.7,1034.2 455.6,1033.6 456.4,1032.4 457.0,1030.7 457.3,1029.1 457.5,1027.6 458.3,1025.7 459.5,1023.6 460.6,1022.2 460.9,1022.0 460.6,1021.8 460.9,1020.6 462.7,1019.7 464.3,1019.7 462.9,1018.8 461.3,1018.2 459.0,1018.9 457.1,1019.2 457.4,1019.1 457.9,1017.9 456.5,1017.9 454.7,1018.3 453.5,1018.0 452.2,1018.0 451.2,1017.7 450.7,1016.5 448.6,1016.2 446.1,1016.0 445.7,1015.2 445.1,1015.0 443.6,1014.4 441.8,1014.1 441.1,1015.5 441.3,1017.3 440.6,1018.0 438.6,1018.1 436.8,1018.8 436.2,1019.9 435.3,1020.4 433.2,1020.9 433.7,1021.5 436.4,1021.7 437.7,1021.9 438.1,1022.5 438.3,1023.8 438.1,1026.3 438.4,1028.0 440.0,1027.5 441.5,1026.5 442.3,1027.3 443.4,1029.0 444.9,1029.9Z" fill="#c47b9d"/>
<path d="M432.5,1087.4 432.4,1086.9 430.9,1086.5 429.6,1085.5 429.4,1085.5 428.3,1087.2 426.2,1087.7 424.8,1085.8 423.5,1084.2 422.4,1084.1 422.0,1083.8 421.0,1083.7 420.8,1084.3 420.4,1085.3 420.1,1086.9 420.2,1088.5 420.1,1089.7 419.5,1090.6 418.9,1091.9 418.9,1094.0 419.2,1096.2 419.3,1097.6 418.7,1098.2 417.8,1098.8 417.4,1100.1 417.8,1101.7 419.4,1101.6 420.4,1101.7 419.7,1102.7 418.9,1103.8 418.2,1105.4 418.1,1107.6 418.4,1109.8 418.7,1111.1 418.8,1111.7 418.6,1112.4 420.3,1113.4 421.4,1113.9 421.8,1113.6 422.9,1112.8 424.3,1113.8 426.2,1115.4 428.4,1115.1 429.1,1114.8 430.0,1115.4 432.3,1115.2 433.2,1114.6 432.6,1114.6 433.6,1114.4 435.8,1114.7 437.4,1113.9 438.3,1114.0 438.0,1113.6 437.7,1111.8 438.6,1109.9 439.9,1109.2 440.3,1109.0 439.7,1107.0 439.3,1104.8 438.8,1103.2 438.3,1102.4 438.0,1102.1 438.1,1101.6 438.3,1100.4 438.4,1098.9 437.7,1097.9 436.2,1097.4 434.7,1096.8 434.0,1095.5 434.2,1093.8 434.6,1092.3 434.5,1091.3 433.8,1090.4 433.0,1089.1Z" fill="#a73a6b"/>
<path d="M328.8,972.1 330.0,973.4 332.1,973.9 334.0,973.0 334.4,973.4 335.3,974.0 336.9,973.5 337.2,974.3 337.5,975.5 338.9,976.5 340.8,977.4 341.8,976.8 342.2,976.3 343.1,976.0 343.9,977.1 344.5,979.0 346.3,979.1 349.0,977.3 350.4,976.4 350.3,976.1 349.5,975.2 349.9,973.9 351.5,973.2 352.8,973.1 353.2,972.4 353.7,970.7 354.8,968.9 355.8,967.9 355.7,966.5 355.1,964.7 354.1,963.9 353.3,963.2 352.8,962.4 352.1,961.7 351.3,961.1 350.7,960.9 350.9,959.6 349.7,959.9 347.5,960.6 346.7,959.4 345.9,958.2 343.7,958.8 342.8,958.4 342.1,957.4 340.9,956.9 339.5,956.7 339.4,957.6 339.9,957.1 337.7,956.8 335.2,956.8 335.0,956.3 334.4,956.3 331.5,956.3 328.8,955.7 328.1,955.9 328.5,956.4 328.8,955.7 327.4,955.4 327.5,956.9 326.6,958.3 325.4,959.7 324.7,961.2 325.1,962.9 326.7,964.5 328.4,965.7 329.3,966.5 329.1,967.2 328.2,968.1 327.7,969.4 328.0,970.8Z" fill="#c47b9d"/>
<path d="M340.8,977.4 340.5,979.3 340.2,980.3 340.1,980.6 340.2,981.4 340.2,983.5 339.7,985.8 339.0,987.2 338.5,987.3 337.9,987.5 337.0,988.7 335.8,990.6 335.1,992.1 335.4,993.0 335.8,993.1 336.2,994.2 337.0,995.7 338.0,997.3 338.7,998.8 338.9,998.6 339.7,997.9 341.9,997.4 343.7,998.8 344.7,1001.1 345.7,1001.9 346.0,1002.0 346.2,1002.9 348.0,1003.3 349.9,1002.7 350.0,1003.2 349.8,1001.5 349.9,1000.1 350.9,999.6 352.6,999.5 353.8,999.0 354.3,997.6 354.4,996.4 355.2,995.8 356.4,995.5 357.0,994.8 356.5,993.4 356.3,992.1 355.6,990.6 355.8,988.8 356.1,987.6 355.9,987.3 355.9,985.8 355.0,985.4 354.0,984.3 352.7,983.3 351.8,982.2 352.1,980.8 352.3,979.7 351.4,978.9 350.5,977.6 350.4,976.4 349.0,977.3 346.3,979.1 344.5,979.0 343.9,977.1 343.1,976.0 342.2,976.3 341.8,976.8Z" fill="#fbf4f6"/>
<path d="M225.4,985.9 225.7,986.0 227.2,986.0 229.4,986.6 230.4,988.8 230.8,991.3 231.9,992.3 229.4,992.2 227.2,991.8 226.3,991.9 225.9,991.5 225.8,990.0 225.3,990.0 223.6,992.9 224.4,992.4 223.4,993.8 223.4,996.2 225.2,997.5 226.9,998.0 227.6,998.4 228.3,998.9 229.4,999.8 229.4,1000.9 229.7,1000.5 232.3,999.0 234.8,999.4 235.6,1001.5 236.5,1001.2 238.4,998.8 239.0,998.8 239.6,1000.4 241.2,1001.6 242.0,1002.1 242.5,1001.7 243.0,1000.1 244.1,1000.1 245.2,1000.4 245.8,999.3 245.9,997.1 246.2,995.0 247.2,994.0 248.7,993.3 249.7,992.0 249.5,990.2 248.8,988.6 247.4,989.4 245.7,989.8 245.0,988.6 245.5,986.5 246.1,985.2 245.9,985.0 245.3,983.8 244.5,982.2 244.0,980.7 244.0,979.4 244.1,978.2 244.0,976.7 243.6,975.1 243.3,973.4 242.6,973.5 242.4,973.1 240.7,973.2 238.3,973.3 238.5,973.4 238.9,973.6 236.5,974.4 233.5,974.4 232.4,973.7 231.8,973.7 230.7,974.1 229.7,974.7 228.7,975.9 226.8,976.7 225.0,976.2 224.4,975.1 223.8,975.4 223.3,976.8 222.9,978.8 222.7,980.1 222.7,980.7 222.7,981.1 222.7,982.1 224.1,983.0 226.1,983.2 226.7,984.1 227.4,985.0 229.2,984.7 231.1,984.5 232.9,984.6 231.1,985.2 229.5,985.7 227.8,985.7 226.4,985.0 225.7,984.7Z" fill="#86003f"/>
<path d="M405.6,1112.5 405.2,1112.1 402.5,1113.1 400.0,1114.3 399.4,1114.4 399.0,1114.4 397.3,1114.9 395.6,1115.1 394.8,1114.7 393.7,1114.9 391.9,1115.7 391.0,1116.2 391.2,1116.3 390.7,1117.5 389.9,1118.7 389.6,1120.2 390.2,1121.6 391.1,1122.6 391.5,1123.2 391.3,1123.9 392.3,1124.9 392.2,1126.2 392.9,1126.6 394.8,1126.4 396.3,1127.2 397.7,1127.5 399.1,1126.3 399.5,1126.5 400.6,1128.7 403.4,1130.1 405.1,1130.0 405.0,1129.4 405.6,1129.6 406.1,1130.2 406.3,1131.6 406.2,1133.3 406.4,1134.3 407.3,1134.3 409.7,1133.0 411.0,1133.6 410.8,1134.1 411.4,1132.8 413.7,1131.1 415.9,1130.5 416.1,1130.4 415.6,1129.7 416.2,1128.4 417.8,1127.4 419.1,1126.9 420.0,1126.5 419.3,1126.1 419.0,1125.3 419.0,1123.7 419.3,1121.7 419.8,1119.9 420.5,1119.1 421.0,1118.7 421.2,1118.1 421.1,1116.7 420.7,1114.8 420.3,1113.4 418.6,1112.4 416.5,1112.5 416.4,1112.8 416.7,1113.4 415.5,1113.9 413.5,1113.6 412.3,1113.1 411.5,1113.8 409.7,1115.3 407.8,1116.0 406.8,1115.8 405.5,1114.5 404.9,1113.5Z" fill="#c47b9d"/>
<path d="M350.9,1128.3 349.5,1129.7 347.0,1129.7 345.3,1128.4 344.3,1128.0 342.6,1128.9 340.9,1128.8 340.5,1127.9 340.5,1128.6 340.0,1130.2 339.8,1131.2 338.8,1131.9 338.0,1132.3 337.9,1132.8 338.0,1133.7 337.6,1135.1 336.5,1136.9 335.5,1138.9 335.6,1140.6 336.7,1141.8 335.3,1140.7 333.8,1141.2 334.1,1142.1 334.0,1142.6 331.2,1141.9 328.3,1140.4 327.5,1140.3 327.1,1141.4 325.9,1141.4 324.0,1141.1 324.1,1143.3 324.4,1144.9 324.6,1145.9 324.8,1146.9 325.0,1148.6 325.3,1150.7 325.5,1152.5 325.8,1153.2 326.0,1153.2 326.2,1153.6 326.1,1155.0 325.8,1157.0 325.3,1158.7 327.3,1157.6 328.7,1156.9 328.7,1157.0 328.9,1158.7 328.5,1160.7 328.0,1162.4 327.8,1163.6 330.4,1162.9 331.4,1162.3 332.2,1162.7 334.3,1162.9 334.7,1161.7 334.0,1160.3 333.4,1158.8 333.8,1157.2 335.1,1155.8 336.1,1154.6 336.6,1153.7 336.9,1152.9 337.5,1152.3 337.8,1151.5 337.5,1150.2 337.5,1148.3 338.3,1146.4 339.7,1145.3 340.5,1144.5 340.2,1143.2 340.0,1143.3 341.1,1144.5 343.3,1145.1 344.4,1145.5 344.4,1145.9 346.0,1145.3 348.9,1143.9 350.4,1143.9 350.6,1144.6 350.4,1144.0 351.6,1141.3 353.7,1139.4 354.6,1139.8 354.3,1140.4 354.7,1139.2 356.2,1137.5 357.2,1137.1 355.8,1135.4 355.1,1133.8 354.5,1133.6 353.4,1134.0 352.4,1133.6 351.6,1132.3 350.9,1130.9 350.6,1130.0 350.8,1129.1Z" fill="#a73a6b"/>
<path d="M321.9,1140.4 322.0,1140.7 322.8,1140.6 324.0,1141.1 325.9,1141.4 327.1,1141.4 327.5,1140.3 328.3,1140.4 331.2,1141.9 334.0,1142.6 334.1,1142.1 333.8,1141.2 335.3,1140.7 336.7,1141.8 335.6,1140.6 335.5,1138.9 336.5,1136.9 337.6,1135.1 338.0,1133.7 337.9,1132.8 338.0,1132.3 338.8,1131.9 339.8,1131.2 340.0,1130.2 339.0,1129.5 337.5,1128.1 335.3,1126.8 334.2,1125.3 334.8,1123.5 334.6,1122.7 332.3,1122.8 330.3,1122.1 329.2,1121.9 327.8,1123.2 326.5,1124.3 326.2,1123.8 326.3,1122.1 325.5,1121.8 324.2,1121.7 322.5,1121.1 320.6,1121.1 319.3,1120.5 319.6,1119.0 319.5,1118.2 317.6,1118.7 315.9,1118.7 315.4,1118.3 314.9,1119.3 314.7,1120.1 314.6,1121.4 314.1,1123.4 312.9,1125.3 311.9,1126.4 311.8,1126.8 312.3,1127.5 312.3,1129.0 311.5,1130.7 310.6,1131.8 310.5,1132.3 310.8,1133.2 310.7,1135.1 311.7,1135.7 313.1,1135.7 314.0,1136.2 314.1,1138.3 314.7,1140.4 316.0,1140.6 316.8,1138.9 317.4,1138.6 320.0,1139.6 321.9,1140.5Z" fill="#a73a6b"/>
<path d="M291.8,1101.2 291.5,1101.9 291.9,1103.0 293.3,1104.0 294.4,1105.1 295.2,1106.0 296.7,1106.1 298.1,1106.4 298.8,1108.1 299.5,1109.9 300.8,1110.4 301.6,1110.9 301.7,1112.4 302.1,1113.7 302.5,1113.7 302.2,1113.5 302.8,1113.5 306.0,1114.4 308.7,1115.5 309.1,1116.4 309.7,1115.9 311.4,1115.3 312.6,1116.4 313.1,1114.9 312.3,1113.7 312.0,1112.5 313.6,1110.9 315.8,1109.5 316.7,1108.9 316.1,1108.9 315.8,1108.2 317.1,1106.4 319.0,1104.3 319.8,1103.1 319.3,1102.6 319.2,1101.4 320.3,1099.2 321.7,1097.1 322.3,1096.4 322.2,1096.7 320.0,1096.8 317.5,1096.1 317.0,1093.9 317.7,1092.0 317.4,1091.6 315.8,1091.5 314.7,1090.6 314.7,1089.2 314.9,1087.7 314.6,1086.6 313.9,1085.9 313.1,1084.5 312.5,1082.9 311.9,1082.0 310.5,1082.2 309.7,1082.3 308.9,1082.4 307.1,1082.5 305.9,1081.4 305.3,1080.2 303.3,1080.5 301.2,1080.5 300.9,1079.4 300.6,1079.1 299.0,1079.1 297.5,1077.9 298.4,1079.6 299.4,1080.7 300.1,1081.4 300.3,1082.3 299.8,1081.7 298.8,1081.4 297.9,1080.4 297.2,1078.7 296.4,1077.1 295.7,1077.7 296.1,1077.8 295.6,1077.4 292.3,1077.5 291.7,1079.2 291.4,1080.2 291.4,1080.8 291.8,1081.7 292.1,1083.1 292.3,1084.4 292.0,1085.0 291.5,1085.3 290.9,1086.4 290.3,1088.5 289.8,1090.7 289.4,1092.0 289.1,1092.4 288.9,1092.9 288.8,1094.0 288.8,1095.6 288.5,1096.9 287.8,1097.6 287.0,1098.2 286.3,1099.6 288.5,1100.6 290.9,1100.9Z" fill="#a73a6b"/>
<path d="M397.0,1142.6 398.8,1143.1 400.1,1140.2 401.1,1137.6 401.1,1138.2 400.9,1139.3 402.4,1138.3 405.5,1137.6 407.7,1138.7 408.2,1139.6 408.6,1139.5 407.8,1137.9 407.2,1136.0 407.3,1134.3 406.4,1134.3 406.2,1133.3 406.3,1131.6 406.1,1130.2 405.6,1129.6 405.0,1129.4 405.1,1130.0 403.4,1130.1 400.6,1128.7 399.5,1126.5 399.1,1126.3 397.7,1127.5 396.3,1127.2 394.8,1126.4 392.9,1126.6 392.2,1126.2 392.3,1124.9 391.3,1123.9 390.0,1124.3 388.7,1124.9 388.0,1125.8 388.3,1126.0 388.1,1126.8 385.9,1127.6 383.1,1127.7 381.4,1128.1 380.5,1129.0 379.9,1129.0 379.4,1128.0 378.3,1127.9 376.5,1129.1 375.1,1129.5 374.5,1130.6 374.5,1130.9 374.8,1131.7 374.8,1133.7 374.4,1136.3 374.1,1138.2 374.5,1139.0 375.5,1139.5 376.0,1140.2 377.1,1141.2 377.3,1142.0 378.2,1141.9 378.8,1142.2 379.5,1142.9 380.9,1143.1 382.0,1144.0 382.7,1145.5 384.2,1145.3 385.2,1144.5 385.4,1145.8 387.2,1147.6 388.9,1147.2 389.3,1146.3 389.8,1145.7 391.1,1145.6 392.4,1145.1 393.1,1143.5 393.8,1141.6 395.2,1141.3Z" fill="#dfb2c7"/>
<path d="M296.3,985.5 294.9,985.2 293.9,984.3 294.4,983.1 294.5,982.8 292.5,983.1 290.1,981.9 289.0,979.7 288.3,978.9 287.4,979.7 287.2,979.4 286.4,978.7 284.3,978.8 282.8,978.9 281.8,979.0 279.6,979.1 277.7,978.0 277.6,976.3 277.6,977.3 277.2,979.2 276.1,981.5 275.4,983.3 275.9,984.4 277.2,985.2 277.8,986.3 276.9,988.0 275.4,990.1 274.8,992.1 275.5,993.9 276.6,995.2 276.8,995.7 274.9,995.8 275.3,995.5 275.7,995.1 275.8,995.6 275.6,997.1 275.2,999.4 274.8,1001.6 274.7,1003.3 275.1,1004.5 275.8,1005.5 276.7,1004.8 278.1,1005.6 281.0,1006.1 282.6,1006.3 282.4,1007.3 283.4,1007.9 285.4,1008.7 286.8,1009.8 288.1,1009.4 288.7,1008.6 288.6,1010.0 289.8,1010.2 292.4,1009.4 294.5,1008.3 294.7,1007.5 294.4,1006.9 295.4,1006.4 297.0,1005.9 297.2,1004.7 297.0,1003.2 296.4,1001.6 295.4,1000.5 294.3,999.9 293.4,999.4 293.2,998.3 293.6,996.5 294.1,994.4 294.2,992.6 294.0,991.0 294.8,990.2 296.4,989.8 297.3,989.3 296.9,988.7 295.8,988.1 295.4,987.1Z" fill="#a73a6b"/>
<path d="M347.3,1049.4 347.9,1049.7 348.7,1048.9 347.9,1049.2 348.4,1049.4 350.7,1049.3 352.7,1049.8 354.8,1049.8 357.1,1048.7 358.2,1049.0 358.6,1050.5 359.2,1050.4 359.1,1049.6 359.5,1049.5 362.4,1049.4 365.6,1049.0 366.0,1049.1 366.3,1049.2 366.5,1048.6 366.6,1047.4 365.6,1045.8 364.9,1043.9 364.7,1042.2 364.9,1040.9 365.0,1040.1 364.6,1039.5 363.6,1038.6 362.3,1037.4 361.4,1035.8 361.2,1034.2 361.5,1032.5 361.8,1032.3 361.2,1032.5 360.4,1031.5 359.9,1029.6 358.6,1029.1 356.2,1029.6 354.4,1029.0 353.9,1029.0 352.9,1028.2 352.3,1027.6 352.3,1026.6 351.7,1026.2 348.8,1027.0 346.3,1027.3 346.7,1027.4 346.7,1026.9 344.9,1027.5 343.2,1029.7 342.9,1030.8 342.5,1030.0 340.8,1029.6 339.5,1031.4 339.9,1033.4 340.0,1033.7 337.8,1033.4 335.6,1034.2 335.6,1035.7 336.7,1036.3 336.9,1037.3 335.9,1038.6 334.3,1040.1 333.4,1041.5 335.0,1042.5 337.2,1042.9 337.9,1043.8 338.0,1045.1 338.8,1046.3 339.8,1047.7 340.9,1049.0 342.7,1048.6 344.4,1047.8 345.4,1048.7Z" fill="#dfb2c7"/>
<path d="M333.8,1011.3 332.3,1012.6 330.9,1012.6 329.2,1012.9 326.9,1013.9 325.8,1013.7 325.1,1012.6 323.8,1011.7 323.5,1010.9 322.3,1011.9 321.1,1013.9 320.7,1016.5 320.9,1018.8 321.1,1020.0 321.0,1020.5 320.8,1020.9 320.8,1021.8 321.0,1023.0 320.9,1024.4 320.5,1025.7 320.1,1027.2 320.4,1028.7 320.8,1027.8 321.5,1027.1 324.5,1027.1 326.6,1028.6 326.5,1030.4 326.8,1030.0 328.3,1029.2 330.3,1030.3 331.4,1031.2 332.2,1031.1 331.9,1031.5 331.3,1033.2 331.8,1035.1 333.8,1035.9 335.6,1035.7 335.6,1034.2 337.8,1033.4 340.0,1033.7 339.9,1033.4 339.5,1031.4 340.8,1029.6 342.5,1030.0 342.9,1030.8 343.2,1029.7 344.9,1027.5 346.7,1026.9 346.7,1027.4 346.3,1027.3 346.3,1025.7 347.1,1024.3 346.9,1023.5 345.8,1022.6 344.7,1021.4 343.5,1020.6 342.5,1019.9 341.5,1018.5 340.7,1016.4 339.4,1015.8 338.4,1016.4 338.3,1016.7 337.1,1016.9 334.3,1016.1 333.2,1013.7 333.9,1011.4Z" fill="#c47b9d"/>
<path d="M418.5,1077.0 418.1,1078.2 418.1,1079.9 418.2,1081.5 418.7,1082.8 419.8,1083.5 421.0,1083.7 422.0,1083.8 422.4,1084.1 423.5,1084.2 424.8,1085.8 426.2,1087.7 428.3,1087.2 429.4,1085.5 429.6,1085.5 430.9,1086.5 432.4,1086.9 432.5,1087.4 433.0,1089.1 433.8,1090.4 434.5,1091.3 434.6,1092.3 434.2,1093.8 434.0,1095.5 434.7,1096.8 436.2,1097.4 437.7,1097.9 438.4,1098.9 438.3,1100.4 439.3,1098.8 441.2,1097.4 442.3,1096.8 442.0,1096.4 442.3,1096.0 443.9,1096.0 445.3,1095.5 445.7,1093.7 446.3,1092.3 447.8,1092.9 449.4,1093.8 450.6,1092.4 451.7,1089.7 452.6,1088.9 453.2,1089.8 454.3,1089.5 453.9,1088.2 453.7,1086.3 453.2,1084.7 452.3,1083.6 451.6,1082.3 451.4,1080.7 450.3,1080.0 448.5,1081.0 447.5,1081.7 446.0,1082.1 443.7,1081.3 443.2,1078.8 443.7,1077.8 442.3,1078.8 440.6,1078.3 439.2,1077.3 438.6,1075.6 439.2,1073.9 440.2,1072.4 440.7,1071.4 440.4,1070.6 439.4,1069.8 436.9,1069.4 434.0,1069.8 433.2,1069.8 433.3,1069.5 432.5,1069.1 431.8,1067.7 431.0,1067.3 428.5,1068.8 427.1,1069.5 426.2,1069.2 425.6,1068.9 424.4,1069.3 423.4,1070.6 423.3,1072.0 423.3,1072.7 422.4,1073.4 421.2,1074.6 420.7,1075.8 420.6,1076.4 419.8,1076.4Z" fill="#86003f"/>
<path d="M445.7,1031.0 444.9,1029.9 443.4,1029.0 442.3,1027.3 441.5,1026.5 440.0,1027.5 438.4,1028.0 438.1,1026.3 438.3,1023.8 438.1,1022.5 437.7,1021.9 436.4,1021.7 433.7,1021.5 432.6,1023.0 432.0,1024.6 431.9,1025.8 431.8,1026.1 430.9,1026.2 429.7,1026.8 428.8,1027.8 428.9,1028.4 428.9,1029.0 427.9,1030.3 426.5,1032.4 425.8,1034.3 426.6,1035.0 427.3,1036.5 428.4,1037.7 429.5,1038.0 429.7,1038.4 429.6,1040.1 430.9,1041.8 431.7,1042.4 432.2,1042.9 432.4,1044.0 432.4,1045.7 432.2,1047.5 432.0,1048.7 431.7,1049.1 431.7,1049.0 432.1,1049.3 433.3,1049.8 434.8,1050.5 436.0,1051.7 435.8,1053.4 436.0,1053.4 437.0,1052.6 438.7,1052.7 441.3,1052.8 443.3,1052.6 443.7,1053.2 444.0,1052.6 444.3,1051.9 444.5,1050.8 445.2,1050.2 446.0,1049.6 445.5,1048.6 444.4,1047.2 443.5,1045.5 443.8,1043.8 445.6,1043.4 447.7,1043.2 449.0,1042.7 449.7,1041.6 450.4,1040.3 449.6,1039.1 448.7,1038.2 448.7,1037.2 448.9,1036.5 447.8,1036.4 445.7,1036.0 445.9,1034.3 445.9,1032.5Z" fill="#a73a6b"/>
<path d="M283.3,1119.8 283.3,1122.1 283.7,1124.0 284.1,1124.4 284.1,1124.5 283.7,1125.6 283.0,1127.6 282.4,1129.2 284.1,1130.6 285.8,1130.3 286.9,1128.7 286.9,1129.0 288.2,1130.2 290.2,1130.1 290.6,1130.0 291.2,1130.4 293.1,1131.0 294.6,1131.9 295.0,1133.5 295.5,1135.1 296.8,1136.3 298.2,1137.8 299.0,1138.5 300.3,1136.5 301.5,1134.2 301.8,1134.4 302.2,1135.6 303.6,1135.5 305.1,1135.4 306.3,1136.6 307.8,1137.2 309.5,1136.3 310.7,1135.1 310.8,1133.2 310.5,1132.3 310.6,1131.8 311.5,1130.7 312.3,1129.0 312.3,1127.5 311.8,1126.8 311.9,1126.4 312.9,1125.3 314.1,1123.4 314.6,1121.4 314.7,1120.1 314.9,1119.3 315.4,1118.3 314.7,1118.3 313.2,1118.4 312.6,1116.4 311.4,1115.3 309.7,1115.9 309.1,1116.4 308.7,1115.5 306.0,1114.4 302.8,1113.5 302.2,1113.5 302.5,1113.7 302.1,1113.7 301.7,1112.4 301.6,1110.9 300.8,1110.4 299.5,1109.9 298.8,1108.1 298.1,1106.4 296.7,1106.1 295.2,1106.0 294.4,1105.1 293.3,1104.0 291.9,1103.0 291.5,1101.9 291.8,1101.2 290.9,1100.9 288.5,1100.6 286.3,1099.6 286.1,1102.4 286.4,1105.2 287.1,1106.7 287.9,1107.0 288.2,1107.3 287.9,1108.3 287.3,1110.0 286.7,1111.2 286.5,1111.6 286.8,1111.9 287.1,1113.0 286.9,1114.6 285.9,1116.1 284.6,1117.0 283.6,1118.0Z" fill="#a73a6b"/>
<path d="M333.8,1011.3 333.9,1011.4 333.2,1013.7 334.3,1016.1 337.1,1016.9 338.3,1016.7 338.4,1016.4 339.4,1015.8 340.7,1016.4 341.5,1018.5 342.5,1019.9 343.5,1020.6 344.7,1021.4 345.8,1022.6 346.9,1023.5 347.1,1024.3 346.3,1025.7 346.3,1027.3 348.8,1027.0 351.7,1026.2 352.3,1026.6 352.3,1027.6 352.9,1028.2 353.9,1029.0 354.4,1029.0 356.1,1027.2 356.8,1026.9 356.7,1026.9 357.1,1025.6 358.4,1022.8 359.5,1020.4 359.9,1019.5 360.2,1019.3 361.1,1018.2 362.2,1016.5 362.6,1015.3 362.5,1014.9 362.7,1014.5 363.6,1013.4 363.0,1013.2 361.4,1012.7 360.4,1011.0 360.0,1010.2 358.3,1011.2 356.1,1011.2 354.6,1009.5 353.3,1008.4 352.8,1008.0 353.4,1007.6 352.6,1007.6 351.5,1007.4 350.4,1006.6 349.9,1005.0 350.0,1003.2 349.9,1002.7 348.0,1003.3 346.2,1002.9 346.0,1002.0 345.7,1001.9 344.7,1001.1 343.7,998.8 341.9,997.4 339.7,997.9 338.9,998.6 338.7,998.8 338.5,1000.6 338.0,1001.2 337.8,1001.3 337.9,1002.0 337.7,1003.8 337.0,1005.5 336.2,1006.3 335.7,1006.4 335.5,1007.1 335.0,1008.8 334.2,1010.4 333.8,1011.1Z" fill="#c47b9d"/>
<path d="M401.2,1073.2 401.9,1073.5 401.4,1073.6 400.1,1074.4 399.1,1076.2 398.9,1078.3 398.9,1079.7 398.5,1080.5 400.3,1081.0 401.4,1081.2 402.5,1082.4 404.8,1082.7 405.9,1082.4 405.4,1083.0 406.2,1083.8 408.2,1084.3 409.7,1085.0 411.1,1084.3 412.7,1082.2 413.0,1082.2 413.2,1083.4 414.7,1083.4 417.0,1082.0 418.2,1081.3 418.2,1081.5 418.1,1079.9 418.1,1078.2 418.5,1077.0 417.3,1076.9 414.7,1076.9 413.8,1075.7 414.3,1074.8 413.9,1075.1 412.7,1074.6 411.9,1073.2 410.8,1072.7 409.7,1072.6 409.2,1071.2 408.1,1070.0 409.0,1067.9 409.6,1066.1 409.5,1065.6 408.8,1065.8 408.1,1065.2 407.7,1062.8 407.9,1059.8 408.6,1057.8 409.5,1057.6 410.3,1057.9 410.8,1057.3 410.9,1055.7 411.0,1053.9 410.9,1053.2 410.6,1052.1 408.9,1051.3 406.3,1051.3 404.8,1051.7 404.3,1052.6 404.7,1054.5 404.2,1054.8 401.8,1054.7 399.8,1055.7 399.9,1056.6 400.7,1056.2 399.5,1056.3 397.0,1058.4 396.2,1060.9 397.0,1061.5 396.9,1061.2 394.9,1062.3 395.1,1063.5 395.0,1064.3 395.6,1064.5 396.7,1065.0 397.7,1066.6 398.6,1068.5 399.5,1069.8 400.1,1070.6 400.4,1071.8Z" fill="#c47b9d"/>
<path d="M400.3,1098.6 402.2,1097.3 404.6,1096.9 405.4,1097.0 404.6,1096.6 405.6,1094.9 407.4,1093.0 408.2,1092.4 407.8,1093.0 407.5,1093.0 408.2,1091.2 409.0,1088.9 409.1,1087.6 408.9,1087.2 409.7,1086.2 411.1,1084.3 409.7,1085.0 408.2,1084.3 406.2,1083.8 405.4,1083.0 405.9,1082.4 404.8,1082.7 402.5,1082.4 401.4,1081.2 400.3,1081.0 398.5,1080.5 396.8,1080.4 395.6,1079.5 394.9,1080.0 394.8,1081.1 395.0,1081.6 394.0,1081.9 391.1,1082.5 388.3,1082.4 387.4,1081.7 386.9,1081.7 385.8,1082.3 385.0,1082.2 384.7,1082.1 384.8,1084.3 384.9,1086.2 384.9,1087.3 384.9,1087.9 385.1,1088.4 385.9,1089.4 387.2,1090.9 388.4,1092.4 388.9,1093.7 388.2,1094.9 387.1,1096.2 386.7,1097.4 388.5,1097.3 391.7,1097.0 393.6,1097.5 393.5,1098.5 393.3,1098.6 394.1,1097.7 395.3,1098.1 396.8,1099.6 398.1,1100.4 399.5,1099.5Z" fill="#c47b9d"/>
<path d="M273.2,1019.6 273.2,1020.6 273.0,1021.7 273.0,1022.8 273.3,1024.1 274.0,1025.4 274.2,1026.5 274.1,1027.6 273.7,1028.8 275.9,1027.5 276.7,1028.7 277.2,1030.1 278.1,1029.0 278.8,1028.0 280.7,1028.9 283.6,1029.9 284.7,1030.3 284.8,1029.5 286.0,1028.2 286.8,1029.2 287.2,1031.6 288.7,1031.3 290.8,1029.7 293.1,1030.4 295.8,1031.8 296.8,1032.0 296.1,1031.1 295.8,1029.9 295.7,1028.3 295.4,1027.0 294.9,1025.9 294.4,1025.1 294.2,1024.2 293.9,1023.2 293.4,1022.0 292.4,1020.6 291.6,1018.9 291.3,1017.4 291.5,1016.5 291.5,1016.3 290.9,1016.0 290.0,1014.8 289.4,1012.4 289.0,1011.0 288.6,1010.0 288.7,1008.6 288.1,1009.4 286.8,1009.8 285.4,1008.7 283.4,1007.9 282.4,1007.3 282.6,1006.3 281.0,1006.1 278.1,1005.6 276.7,1004.8 275.8,1005.5 276.1,1007.5 275.9,1008.5 273.7,1009.2 271.6,1009.9 271.3,1010.2 271.3,1010.4 269.8,1011.4 267.5,1013.0 266.6,1013.9 267.1,1014.3 267.6,1015.6 266.9,1017.3 266.2,1018.3 265.9,1018.3 266.4,1019.3 268.2,1019.7 270.3,1019.5 271.3,1019.7 272.3,1019.6Z" fill="#a73a6b"/>
<path d="M356.3,992.1 356.5,993.4 357.0,994.8 356.4,995.5 355.2,995.8 354.4,996.4 354.3,997.6 353.8,999.0 352.6,999.5 350.9,999.6 349.9,1000.1 349.8,1001.5 350.0,1003.2 349.9,1005.0 350.4,1006.6 351.5,1007.4 352.6,1007.6 353.4,1007.6 352.8,1008.0 353.3,1008.4 354.6,1009.5 356.1,1011.2 358.3,1011.2 360.0,1010.2 360.4,1011.0 361.4,1012.7 363.0,1013.2 363.6,1013.4 364.1,1012.7 365.3,1012.1 368.0,1012.3 369.0,1013.0 369.1,1013.4 369.4,1013.4 370.1,1014.7 372.2,1016.3 375.3,1015.9 376.7,1015.3 376.6,1015.9 377.4,1016.1 378.1,1016.1 378.3,1016.0 378.3,1017.1 379.6,1016.6 382.4,1015.0 384.5,1014.6 383.7,1013.1 382.9,1011.9 382.5,1011.1 382.6,1010.2 383.1,1008.9 383.6,1007.0 383.6,1005.0 383.0,1003.8 382.1,1003.3 381.3,1003.2 380.9,1002.4 381.0,1000.7 381.4,998.3 381.7,996.2 381.5,995.5 379.0,995.9 376.8,996.6 376.4,997.7 375.5,999.0 373.8,998.0 372.6,994.9 371.6,993.6 370.8,994.5 370.6,995.1 370.4,995.1 368.2,995.1 364.9,995.2 363.6,994.7 363.8,994.3 363.2,994.0 362.6,992.2 361.8,990.7 359.2,991.5Z" fill="#fbf4f6"/>
<path d="M355.6,1094.2 355.0,1092.7 354.8,1091.5 354.3,1091.6 354.0,1091.5 353.4,1090.7 351.1,1090.5 348.2,1090.8 347.7,1092.2 348.4,1093.6 348.6,1094.2 347.4,1094.6 346.0,1095.9 345.9,1097.8 345.8,1099.1 343.9,1099.3 341.1,1099.3 340.0,1100.2 340.9,1101.5 341.1,1102.5 339.3,1103.2 337.1,1104.3 336.8,1105.7 337.8,1106.7 339.1,1108.2 340.2,1109.6 341.1,1110.3 342.9,1108.9 343.4,1109.7 343.3,1111.5 344.1,1111.3 345.1,1110.0 346.3,1110.0 347.9,1111.2 349.8,1112.2 350.3,1113.6 350.3,1114.9 351.2,1115.3 352.8,1115.6 354.1,1116.8 355.9,1116.4 357.6,1115.3 357.4,1114.8 356.0,1115.3 356.2,1116.1 358.9,1116.1 360.4,1114.8 361.5,1113.3 361.2,1112.1 360.5,1111.1 360.6,1109.9 361.8,1108.1 362.9,1106.2 362.9,1105.0 362.3,1104.4 362.2,1103.5 362.7,1101.7 362.9,1099.7 362.6,1098.4 361.3,1098.2 360.2,1097.8 359.3,1096.6 359.9,1094.5 360.5,1093.9 358.7,1094.9 356.0,1094.6Z" fill="#c47b9d"/>
<path d="M312.6,1116.4 313.2,1118.4 314.7,1118.3 315.4,1118.3 315.9,1118.7 317.6,1118.7 319.5,1118.2 319.6,1119.0 319.3,1120.5 320.6,1121.1 322.5,1121.1 324.2,1121.7 325.5,1121.8 326.3,1122.1 326.2,1123.8 326.5,1124.3 327.8,1123.2 329.2,1121.9 330.3,1122.1 332.3,1122.8 333.0,1123.0 334.2,1122.0 335.5,1120.1 336.0,1118.9 335.7,1118.7 335.6,1117.9 336.5,1115.8 337.6,1113.9 338.3,1113.5 338.7,1113.6 339.6,1112.6 341.1,1110.3 340.2,1109.6 339.1,1108.2 337.8,1106.7 336.8,1105.7 337.0,1105.2 337.1,1104.0 334.2,1103.6 331.1,1103.5 330.5,1103.5 330.1,1104.3 329.3,1103.4 329.0,1101.2 328.5,1100.3 326.8,1100.9 325.0,1101.0 323.8,1099.6 323.2,1097.8 322.7,1096.9 322.4,1097.0 322.2,1096.7 322.3,1096.4 321.7,1097.1 320.3,1099.2 319.2,1101.4 319.3,1102.6 319.8,1103.1 319.0,1104.3 317.1,1106.4 315.8,1108.2 316.1,1108.9 316.7,1108.9 315.8,1109.5 313.6,1110.9 312.0,1112.5 312.3,1113.7 313.1,1114.9Z" fill="#c47b9d"/>
<path d="M386.7,1097.4 387.5,1098.0 387.9,1097.9 385.5,1098.5 382.7,1100.3 382.0,1101.2 382.1,1100.4 380.7,1100.1 379.1,1101.9 378.9,1103.6 378.8,1105.7 379.1,1106.5 379.9,1106.1 380.8,1105.8 381.4,1106.7 381.4,1108.5 381.0,1110.5 382.5,1111.7 383.6,1111.9 384.0,1113.0 385.6,1113.8 387.9,1113.0 388.5,1113.1 389.0,1114.6 390.6,1115.3 391.2,1116.3 391.0,1116.2 391.9,1115.7 393.7,1114.9 394.8,1114.7 395.6,1115.1 397.3,1114.9 399.0,1114.4 399.4,1114.4 400.0,1114.3 402.5,1113.1 405.2,1112.1 405.6,1112.5 405.3,1112.2 404.6,1112.1 403.6,1111.3 402.9,1109.7 402.5,1107.5 402.4,1105.5 402.2,1104.5 401.9,1104.1 401.5,1103.7 401.2,1102.5 400.8,1100.6 400.3,1098.6 399.5,1099.5 398.1,1100.4 396.8,1099.6 395.3,1098.1 394.1,1097.7 393.3,1098.6 393.5,1098.5 393.6,1097.5 391.7,1097.0 388.5,1097.3Z" fill="#c47b9d"/>
<path d="M297.0,1005.9 295.4,1006.4 294.4,1006.9 294.7,1007.5 294.5,1008.3 292.4,1009.4 289.8,1010.2 288.6,1010.0 289.0,1011.0 289.4,1012.4 290.0,1014.8 290.9,1016.0 291.5,1016.3 291.5,1016.5 291.3,1017.4 291.6,1018.9 292.4,1020.6 293.4,1022.0 293.9,1023.2 294.2,1024.2 294.4,1025.1 294.9,1025.9 295.4,1027.0 295.7,1028.3 295.8,1029.9 296.8,1029.7 298.5,1030.1 299.3,1031.0 299.9,1030.4 301.7,1029.7 304.2,1029.5 305.6,1029.0 305.4,1027.5 305.1,1025.6 306.3,1025.9 308.5,1026.9 308.6,1028.5 308.5,1029.1 310.8,1028.1 313.8,1028.2 315.8,1029.3 316.7,1029.2 316.5,1028.9 317.4,1029.8 318.7,1029.6 319.8,1029.4 320.4,1028.7 320.1,1027.2 320.5,1025.7 320.9,1024.4 321.0,1023.0 320.8,1021.8 320.8,1020.9 321.0,1020.5 321.1,1020.0 320.9,1018.8 320.7,1016.5 321.1,1013.9 322.3,1011.9 323.5,1010.9 323.6,1011.0 321.6,1011.8 319.4,1011.2 319.0,1009.0 319.3,1007.8 318.2,1008.5 316.8,1008.6 315.8,1008.0 314.0,1007.9 311.8,1008.1 310.1,1007.9 309.6,1007.5 309.1,1007.7 307.9,1008.6 307.1,1007.8 307.2,1007.7 305.7,1009.1 303.7,1008.9 302.6,1006.9 301.0,1006.2 299.6,1006.1 299.2,1005.6 298.4,1005.7Z" fill="#c47b9d"/>
<path d="M281.5,945.9 282.9,946.8 283.7,947.7 283.6,948.7 283.1,950.1 282.9,951.5 283.3,952.9 284.2,954.4 285.1,956.0 285.7,957.6 286.1,958.9 286.6,959.7 286.9,960.5 287.6,961.1 288.4,962.0 288.9,963.4 288.6,965.0 287.6,966.6 286.4,967.9 286.0,969.0 286.5,969.9 287.6,970.9 288.4,971.7 288.6,972.6 288.3,974.0 288.1,975.4 288.3,976.5 288.7,977.4 288.8,978.7 288.3,978.9 289.0,979.7 290.1,981.9 292.5,983.1 294.5,982.8 294.4,983.1 293.9,984.3 294.9,985.2 296.3,985.5 298.0,984.7 298.8,984.5 298.8,983.6 299.2,982.1 299.9,980.8 301.8,979.9 303.3,979.2 303.3,978.4 302.9,977.3 303.3,976.2 304.3,975.1 304.7,974.3 303.9,973.1 303.2,972.2 302.8,970.7 302.6,968.9 301.4,968.5 299.5,969.0 298.6,968.4 298.4,966.5 297.5,964.7 296.2,963.6 297.7,962.9 298.6,961.8 298.1,960.6 297.4,959.6 297.9,958.4 299.7,957.2 301.3,956.3 299.5,955.5 297.7,955.7 297.2,956.5 297.6,954.6 297.3,953.0 296.5,951.8 295.6,950.7 295.2,949.6 295.4,948.4 295.8,947.1 296.0,945.9 295.1,946.7 293.8,948.4 292.7,949.7 292.3,948.8 292.1,947.0 290.4,946.5 288.5,946.4 287.3,946.1 285.7,946.3 284.0,946.3 283.0,945.7Z" fill="#c47b9d"/>
<path d="M394.7,978.8 396.2,978.9 395.7,979.1 396.0,978.3 397.5,978.0 398.5,980.1 400.0,981.8 401.7,982.3 402.4,983.2 402.8,984.8 403.9,985.2 404.9,984.5 404.9,984.6 405.3,985.9 408.3,986.1 410.0,986.2 409.5,985.7 410.0,984.5 412.2,984.3 413.6,986.1 414.2,987.3 415.4,985.4 417.2,983.6 418.1,982.9 417.5,982.4 417.2,981.2 418.7,980.2 421.0,980.5 421.0,979.5 420.9,977.9 420.9,976.2 421.1,975.1 421.4,974.5 421.4,974.0 421.1,973.1 420.7,971.5 419.8,970.6 419.2,969.1 419.0,967.9 418.2,967.6 416.6,967.9 414.4,967.9 413.7,966.0 413.7,964.8 413.2,964.9 412.7,964.2 411.4,963.3 408.9,962.7 407.0,961.9 407.2,960.7 407.9,960.2 407.1,960.5 405.9,960.1 405.6,958.7 405.5,957.7 404.4,957.3 403.0,956.1 402.1,954.4 401.3,954.9 400.5,956.1 399.5,957.1 398.7,957.7 398.0,958.7 397.0,960.2 396.0,961.9 395.5,963.3 395.7,964.3 395.8,965.4 394.9,966.6 393.6,967.6 392.9,968.2 393.0,969.0 392.8,970.4 391.5,971.8 392.2,971.6 391.6,972.2 390.7,974.1 390.9,976.5 392.7,978.1Z" fill="#c47b9d"/>
<path d="M432.2,986.2 430.6,986.8 430.0,986.2 430.4,984.9 429.4,984.9 427.2,984.6 425.6,983.1 424.4,982.7 424.1,983.1 424.7,982.8 423.7,982.0 421.0,980.5 418.7,980.2 417.2,981.2 417.5,982.4 418.1,982.9 417.2,983.6 415.4,985.4 414.2,987.3 415.0,988.2 416.0,989.0 416.6,990.2 416.8,991.8 417.1,993.2 417.8,993.8 418.6,993.9 418.9,994.3 418.5,995.8 417.8,998.3 417.5,1000.5 418.3,1001.7 417.8,1001.5 419.7,1001.7 421.2,1001.5 421.2,1002.1 420.4,1004.0 420.1,1006.4 420.9,1008.2 422.1,1009.4 422.7,1010.3 422.8,1011.1 423.0,1011.5 424.0,1011.5 425.6,1011.6 426.6,1013.5 427.8,1014.9 428.3,1015.2 428.5,1015.7 429.6,1013.8 431.3,1012.5 431.9,1012.0 431.8,1011.4 432.7,1010.1 434.5,1008.8 435.9,1008.0 436.0,1007.4 435.8,1006.1 436.4,1004.5 437.5,1003.3 437.8,1002.6 437.5,1001.4 436.7,999.5 435.3,998.0 434.4,997.0 434.3,996.4 433.4,996.4 432.2,995.4 432.1,993.2 433.6,991.8 433.9,990.6 432.9,989.7 431.6,988.9 431.2,987.8Z" fill="#c47b9d"/>
<path d="M296.3,985.5 295.4,987.1 295.8,988.1 296.9,988.7 297.3,989.3 296.4,989.8 294.8,990.2 294.0,991.0 294.2,992.6 294.1,994.4 293.6,996.5 293.2,998.3 293.4,999.4 294.3,999.9 295.4,1000.5 296.4,1001.6 297.0,1003.2 297.2,1004.7 297.0,1005.9 298.4,1005.7 299.2,1005.6 299.6,1006.1 301.0,1006.2 302.6,1006.9 303.7,1008.9 305.7,1009.1 307.2,1007.7 307.1,1007.8 307.9,1008.6 309.1,1007.7 309.6,1007.5 310.1,1007.9 311.8,1008.1 312.9,1006.8 313.5,1005.2 313.3,1003.9 312.6,1003.3 312.6,1002.6 313.3,1001.0 314.4,998.6 315.0,996.5 315.2,995.4 315.2,994.8 315.3,993.5 315.3,991.4 315.0,989.4 314.7,988.5 314.9,988.5 312.5,988.5 311.8,988.0 312.1,986.8 311.4,986.0 310.6,985.1 309.6,985.0 306.8,986.3 304.5,986.2 304.6,984.5 304.5,983.6 302.8,983.2 301.0,982.1 299.2,982.1 298.8,983.6 298.8,984.5 298.0,984.7Z" fill="#c47b9d"/>
<path d="M443.1,955.1 442.6,954.4 441.3,953.8 439.7,953.5 437.8,954.4 436.0,955.8 435.5,955.7 435.3,954.8 433.4,954.4 431.4,953.7 432.1,955.5 433.2,957.1 434.2,958.3 434.3,959.3 433.7,960.2 433.3,961.1 433.7,961.9 434.9,962.7 436.1,963.7 436.3,965.1 435.3,966.9 434.0,968.7 435.0,969.6 438.2,969.5 440.7,969.5 439.9,970.0 439.3,970.8 438.8,972.2 438.1,974.1 437.1,976.1 436.2,977.8 436.4,979.0 437.7,979.8 439.1,980.4 439.4,981.1 438.7,982.1 440.8,983.0 441.2,984.0 441.3,983.5 441.8,983.0 443.2,984.4 445.8,985.6 447.6,985.4 447.3,984.7 447.3,986.1 448.3,987.1 449.6,987.5 449.9,988.1 449.3,989.2 451.4,988.7 453.6,988.4 454.0,988.2 454.7,987.7 457.1,987.0 458.6,987.0 458.6,987.3 460.0,987.0 462.9,986.6 463.7,986.8 462.9,985.7 462.5,984.2 462.7,982.6 463.5,981.2 464.1,979.9 461.9,979.5 461.4,979.1 461.6,979.3 460.1,979.6 458.3,977.6 457.6,974.7 456.8,974.5 455.7,975.7 454.9,976.1 453.3,975.9 452.6,974.9 452.3,973.7 452.0,972.2 451.2,970.9 448.6,971.3 446.7,971.7 446.5,971.9 445.3,972.5 443.3,972.0 442.6,970.1 442.4,969.4 441.8,969.8 440.9,969.5 441.4,969.0 440.9,968.0 439.9,966.7 439.8,965.2 440.6,963.7 441.4,962.2 441.3,960.7 440.7,959.4 440.8,958.3 442.0,957.3 443.2,956.3Z" fill="#dfb2c7"/>
<path d="M425.5,947.5 423.5,948.8 423.3,950.6 424.3,951.6 424.8,951.7 423.8,952.2 422.1,953.9 421.1,955.7 421.4,957.0 422.0,957.6 421.5,958.1 419.7,959.0 418.1,960.5 418.0,962.1 418.7,963.6 418.7,965.1 417.6,966.6 416.6,967.9 418.2,967.6 419.0,967.9 419.2,969.1 419.8,970.6 420.7,971.5 421.1,973.1 421.4,974.0 421.4,974.5 421.1,975.1 420.9,976.2 420.9,977.9 421.0,979.5 421.0,980.5 423.7,982.0 424.7,982.8 424.1,983.1 424.4,982.7 425.6,983.1 427.2,984.6 429.4,984.9 430.4,984.9 430.0,986.2 430.6,986.8 432.2,986.2 434.7,985.0 435.6,985.7 434.9,985.8 435.6,983.9 438.7,982.1 439.4,981.1 439.1,980.4 437.7,979.8 436.4,979.0 436.2,977.8 437.1,976.1 438.1,974.1 438.8,972.2 439.3,970.8 439.9,970.0 440.7,969.5 438.2,969.5 435.0,969.6 434.0,968.7 435.3,966.9 436.3,965.1 436.1,963.7 434.9,962.7 433.7,961.9 433.3,961.1 433.7,960.2 434.3,959.3 434.2,958.3 433.2,957.1 432.1,955.5 431.4,953.7 431.2,952.5 431.7,951.6 431.6,951.6 430.5,952.1 428.9,951.8 427.5,950.4 426.3,948.8Z" fill="#c47b9d"/>
<path d="M253.3,1006.5 253.2,1007.7 253.2,1009.0 253.5,1010.1 253.8,1011.0 254.1,1012.0 257.0,1011.7 257.6,1011.9 257.1,1011.4 257.9,1009.5 258.9,1009.6 259.9,1011.2 261.8,1011.6 263.7,1010.8 264.7,1011.1 266.2,1012.1 267.8,1012.4 267.8,1013.4 267.5,1015.3 266.9,1017.3 267.6,1015.6 267.1,1014.3 266.6,1013.9 267.5,1013.0 269.8,1011.4 271.3,1010.4 271.3,1010.2 271.6,1009.9 273.7,1009.2 275.9,1008.5 276.1,1007.5 275.8,1005.5 275.1,1004.5 274.7,1003.3 274.8,1001.6 275.2,999.4 275.6,997.1 275.8,995.6 275.7,995.1 275.3,995.5 274.9,995.8 271.6,995.4 270.0,994.9 269.9,994.8 270.7,993.6 271.0,992.2 269.0,992.9 266.5,994.8 265.7,995.3 264.9,995.0 262.2,994.9 260.5,993.2 260.5,990.5 260.6,989.9 259.3,990.9 259.0,991.9 258.0,991.1 255.4,990.6 253.6,990.9 253.8,991.0 253.3,990.7 251.1,989.6 249.3,988.2 248.8,988.6 249.5,990.2 249.7,992.0 248.7,993.3 247.2,994.0 246.2,995.0 245.9,997.1 245.8,999.3 245.2,1000.4 244.1,1000.1 243.0,1000.1 242.5,1001.7 244.1,1000.5 245.6,1000.8 246.7,1003.0 248.0,1004.3 248.9,1004.4 249.1,1005.2 250.2,1006.2 252.3,1006.4Z" fill="#86003f"/>
<path d="M443.1,955.1 443.2,956.3 442.0,957.3 440.8,958.3 440.7,959.4 441.3,960.7 441.4,962.2 440.6,963.7 439.8,965.2 439.9,966.7 440.9,968.0 441.4,969.0 440.9,969.5 441.8,969.8 442.4,969.4 442.6,970.1 443.3,972.0 445.3,972.5 446.5,971.9 446.7,971.7 448.6,971.3 451.2,970.9 452.0,972.2 452.3,973.7 452.6,974.9 453.3,975.9 454.9,976.1 455.7,975.7 456.8,974.5 457.6,974.7 458.3,977.6 460.1,979.6 461.6,979.3 461.4,979.1 461.9,979.5 464.1,979.9 465.9,979.7 466.3,979.9 466.2,978.9 467.3,977.1 469.2,976.5 469.6,975.6 469.6,974.2 469.3,972.9 469.0,972.3 468.9,972.0 468.9,971.3 469.2,969.8 469.8,968.0 470.7,966.8 470.5,966.6 470.0,965.0 468.9,964.1 466.9,964.6 465.3,964.8 464.1,964.2 462.3,963.6 460.9,962.5 461.4,961.4 462.1,962.2 461.4,963.8 459.6,964.6 457.8,964.4 455.7,964.5 454.4,964.2 453.7,963.3 453.6,961.7 452.6,960.6 451.0,960.2 450.2,959.2 449.8,958.1 448.6,957.2 447.3,956.2 447.2,954.9 447.2,955.4 445.0,956.7 443.2,956.5Z" fill="#c47b9d"/>
<path d="M385.4,1015.8 384.5,1014.6 382.4,1015.0 379.6,1016.6 378.3,1017.1 378.3,1016.0 378.1,1016.1 377.6,1018.7 377.0,1021.3 377.0,1022.8 377.9,1023.2 379.0,1023.5 379.4,1024.5 378.5,1026.1 377.0,1027.7 378.2,1028.7 379.3,1029.2 379.5,1030.0 379.9,1031.3 381.3,1032.7 383.2,1034.2 384.5,1035.7 385.1,1036.6 385.1,1036.9 384.7,1037.5 384.3,1038.2 384.0,1039.0 384.3,1040.2 385.0,1041.2 387.1,1040.6 388.9,1039.2 389.3,1039.4 389.9,1040.8 391.0,1041.4 391.3,1041.8 392.0,1042.6 394.6,1042.5 397.6,1042.1 399.1,1042.1 398.5,1041.1 398.0,1040.4 398.9,1039.4 400.6,1038.1 401.2,1036.8 400.7,1035.5 401.0,1034.1 403.2,1032.8 405.4,1032.0 405.4,1031.3 404.0,1030.0 403.6,1028.2 405.2,1026.9 406.7,1026.7 406.3,1026.8 405.1,1025.9 405.0,1025.8 405.0,1024.9 405.1,1023.7 403.7,1022.1 402.5,1020.0 401.7,1019.1 400.8,1020.7 399.9,1022.9 399.5,1022.9 398.5,1021.6 396.7,1020.1 395.5,1019.1 395.0,1018.5 393.4,1019.1 391.4,1019.3 390.8,1018.2 389.9,1017.3 388.0,1016.5 387.3,1015.0 387.6,1014.7 386.7,1016.0Z" fill="#dfb2c7"/>
<path d="M374.7,917.0 373.4,917.1 372.7,915.9 372.5,913.2 372.5,910.3 372.3,908.3 372.0,907.5 371.7,907.2 371.7,908.1 371.2,907.8 368.4,907.9 365.4,908.9 365.2,909.4 366.0,908.5 365.4,910.0 365.5,911.5 366.8,912.4 368.2,913.1 368.8,914.2 368.2,916.0 367.6,917.8 368.0,918.8 369.4,919.0 371.3,920.0 371.7,920.7 373.1,920.0 375.1,919.6 375.9,921.2 376.4,921.7 377.4,920.0 378.2,919.3 379.9,920.2 382.2,920.5 383.0,921.2 383.3,922.4 382.6,923.9 381.3,925.3 380.1,926.6 379.9,927.9 380.6,929.4 381.3,931.1 381.5,932.6 381.4,933.9 381.7,935.2 383.4,935.1 383.6,935.4 383.7,935.9 384.3,936.6 385.1,936.3 386.1,936.4 388.2,936.6 390.5,936.6 391.5,937.9 392.7,939.0 394.0,938.5 393.9,938.6 394.7,939.9 397.6,940.5 399.6,940.7 400.1,940.1 400.8,939.0 401.4,940.1 402.6,943.1 404.8,944.3 404.5,943.7 404.3,942.1 403.7,943.3 403.1,943.4 402.5,941.9 402.6,939.8 403.5,937.9 404.4,936.3 404.5,934.9 404.1,933.5 403.7,932.0 404.2,930.6 403.9,930.7 402.7,931.5 401.3,931.4 400.4,930.2 398.8,929.9 397.6,929.7 397.6,929.1 397.3,929.2 395.3,930.9 394.5,929.1 393.7,927.5 393.2,926.4 393.0,925.8 391.9,925.4 390.1,925.0 390.0,923.7 390.0,923.9 388.3,925.1 385.9,924.9 384.9,923.3 384.5,921.8 385.0,920.3 386.0,918.9 386.8,917.8 386.6,917.1 385.2,916.7 383.0,917.1 380.7,918.1 379.4,918.8 378.8,918.4 377.7,917.9 376.2,917.8 375.1,917.1 375.6,916.0 375.9,916.3Z" fill="#c47b9d"/>
<path d="M355.1,964.7 356.5,964.3 357.8,964.8 359.0,964.6 359.9,963.8 360.6,964.5 362.6,966.0 365.2,965.8 366.4,964.2 366.9,963.0 368.6,962.4 370.0,962.7 370.1,964.8 370.1,966.8 371.2,967.5 372.6,967.6 374.0,968.4 375.5,969.2 376.7,968.9 376.9,967.8 375.9,967.5 375.8,967.8 377.9,967.8 380.5,967.7 381.9,968.2 382.9,968.3 382.3,967.4 382.3,965.3 382.8,963.1 383.7,961.7 384.2,960.8 384.1,959.7 383.4,957.9 382.9,956.0 382.6,954.5 382.5,953.8 382.2,953.0 381.8,951.7 381.4,951.7 381.4,953.2 380.7,953.2 378.7,951.5 377.2,950.5 376.6,951.6 375.7,952.3 374.2,950.9 372.5,950.3 371.2,952.4 370.2,952.7 370.0,951.6 369.8,949.9 369.2,948.2 368.7,946.9 368.4,946.1 366.4,947.3 363.8,950.1 362.3,950.6 361.3,948.6 359.8,948.1 358.4,949.8 358.2,950.5 357.7,949.6 357.1,950.9 356.7,952.5 356.1,954.0 355.4,955.0 355.0,955.4 354.6,956.0 353.6,957.1 352.2,959.1 351.3,961.1 352.1,961.7 352.8,962.4 353.3,963.2 354.1,963.9Z" fill="#dfb2c7"/>
<path d="M304.7,974.3 304.3,975.1 303.3,976.2 302.9,977.3 303.3,978.4 303.3,979.2 301.8,979.9 299.9,980.8 299.2,982.1 301.0,982.1 302.8,983.2 304.5,983.6 304.6,984.5 304.5,986.2 306.8,986.3 309.6,985.0 310.6,985.1 311.4,986.0 312.1,986.8 311.8,988.0 312.5,988.5 314.9,988.5 316.8,989.5 317.9,989.8 319.1,988.1 320.8,985.9 321.6,985.3 321.7,986.6 322.1,988.6 323.4,989.7 323.7,990.2 324.1,990.3 326.3,989.9 328.6,990.9 329.8,993.5 330.8,994.7 330.8,994.2 331.5,993.9 334.5,993.3 336.6,992.7 335.8,993.1 335.4,993.0 335.1,992.1 335.8,990.6 337.0,988.7 337.9,987.5 338.5,987.3 339.0,987.2 339.7,985.8 340.2,983.5 340.2,981.4 340.1,980.6 340.2,980.3 340.5,979.3 340.8,977.4 338.9,976.5 337.5,975.5 337.2,974.3 336.9,973.5 335.3,974.0 334.4,973.4 334.0,973.0 332.1,973.9 330.0,973.4 328.8,972.1 327.6,972.7 325.8,973.9 324.9,974.7 325.3,975.5 325.6,976.7 324.1,978.0 321.1,978.5 319.6,976.9 319.3,975.5 318.5,975.6 317.2,975.5 316.4,974.5 315.5,974.2 314.3,974.7 314.0,973.9 313.8,972.2 312.7,971.2 311.0,971.0 309.9,970.6 308.8,971.4 307.0,973.3 305.3,974.4Z" fill="#fbf4f6"/>
<path d="M366.0,908.5 364.7,908.1 361.9,909.2 360.7,910.3 361.4,910.2 361.2,909.6 359.3,910.1 357.9,911.6 357.2,912.7 356.0,912.4 353.9,911.7 352.0,912.1 352.9,913.5 353.5,915.6 353.8,917.9 353.7,919.7 353.8,920.8 354.3,921.1 354.8,921.5 354.7,922.3 353.9,923.4 352.8,924.2 352.1,924.8 352.0,925.7 352.2,927.3 351.9,929.2 351.3,931.0 353.7,931.0 355.6,931.1 356.7,931.5 358.4,931.1 359.3,931.0 359.4,931.7 360.5,931.1 361.8,930.1 362.6,930.8 363.7,932.1 365.4,932.5 366.3,932.5 366.2,933.2 366.7,934.5 368.3,935.6 370.4,935.7 371.1,936.1 371.9,936.1 373.1,935.8 373.8,936.0 374.8,936.0 376.9,934.8 378.5,934.0 378.6,935.0 379.3,935.9 381.7,935.2 381.4,933.9 381.5,932.6 381.3,931.1 380.6,929.4 379.9,927.9 380.1,926.6 381.3,925.3 382.6,923.9 383.3,922.4 383.0,921.2 382.2,920.5 379.9,920.2 378.2,919.3 377.4,920.0 376.4,921.7 375.9,921.2 375.1,919.6 373.1,920.0 371.7,920.7 371.3,920.0 369.4,919.0 368.0,918.8 367.6,917.8 368.2,916.0 368.8,914.2 368.2,913.1 366.7,912.4 365.5,911.5 365.4,910.0Z" fill="#c47b9d"/>
<path d="M382.3,1082.3 383.8,1082.0 384.7,1082.1 385.0,1082.2 385.8,1082.3 386.9,1081.7 387.4,1081.7 388.3,1082.4 391.1,1082.5 394.0,1081.9 395.0,1081.6 394.8,1081.1 394.9,1080.0 395.6,1079.5 396.8,1080.4 398.5,1080.5 398.9,1079.7 398.9,1078.3 399.1,1076.2 400.1,1074.4 401.4,1073.6 401.9,1073.5 401.2,1073.2 400.4,1071.8 400.1,1070.6 399.5,1069.8 398.6,1068.5 397.7,1066.6 396.7,1065.0 395.6,1064.5 395.0,1064.3 395.1,1063.5 394.9,1062.3 392.6,1063.3 391.0,1063.2 390.5,1061.5 389.1,1060.7 386.7,1061.3 385.8,1061.5 386.2,1060.7 386.4,1060.6 385.5,1060.6 384.3,1059.5 382.3,1057.8 380.1,1058.6 379.4,1059.9 379.6,1059.5 378.3,1059.1 375.6,1060.2 374.4,1060.9 374.5,1060.3 373.2,1060.7 372.3,1061.5 371.8,1063.5 371.2,1065.8 370.0,1066.9 368.8,1066.9 368.2,1067.6 368.0,1069.8 368.0,1072.2 368.0,1072.8 367.8,1072.2 369.0,1072.9 370.1,1073.6 370.6,1075.0 370.8,1077.1 371.6,1078.4 372.6,1078.3 372.9,1078.2 372.5,1079.5 373.2,1081.0 375.4,1081.3 376.8,1080.9 376.8,1081.3 377.6,1081.9 379.2,1082.2 380.6,1082.6Z" fill="#c47b9d"/>
<path d="M281.0,1135.2 279.4,1135.1 277.6,1136.2 276.9,1137.8 277.2,1138.3 276.7,1137.8 274.6,1138.1 276.1,1138.1 276.4,1139.8 277.1,1142.0 278.6,1143.1 279.4,1143.4 279.5,1143.6 280.1,1143.9 280.9,1144.9 281.5,1146.9 282.4,1148.3 283.9,1148.0 285.1,1147.6 286.3,1148.7 287.6,1150.7 288.2,1150.8 287.7,1150.7 289.0,1151.1 292.1,1151.3 293.3,1152.2 293.1,1152.9 294.2,1152.4 296.1,1152.7 297.7,1153.9 299.4,1153.7 299.9,1153.4 299.4,1154.8 300.1,1156.4 302.0,1156.5 303.2,1156.4 304.0,1157.2 304.6,1157.0 305.4,1157.3 306.4,1156.2 307.2,1153.7 307.9,1151.7 308.6,1151.0 309.5,1150.4 310.2,1148.7 310.6,1146.7 311.2,1145.8 312.4,1146.3 313.5,1146.5 313.6,1145.4 313.3,1143.5 313.7,1142.2 315.0,1141.5 316.0,1140.6 314.7,1140.4 314.1,1138.3 314.0,1136.2 313.1,1135.7 311.7,1135.7 310.7,1135.1 309.5,1136.3 307.8,1137.2 306.3,1136.6 305.1,1135.4 303.6,1135.5 302.2,1135.6 301.8,1134.4 301.5,1134.2 300.3,1136.5 299.0,1138.5 298.2,1137.8 296.8,1136.3 295.5,1135.1 295.0,1133.5 294.6,1131.9 293.1,1131.0 291.2,1130.4 290.6,1130.0 290.2,1130.1 288.2,1130.2 286.9,1129.0 286.9,1128.7 285.8,1130.3 284.1,1130.6 282.4,1129.2 281.9,1129.7 281.4,1129.9 281.0,1131.1 280.9,1133.3 281.0,1134.9Z" fill="#a73a6b"/>
<path d="M321.9,1140.4 321.9,1140.5 320.0,1139.6 317.4,1138.6 316.8,1138.9 316.0,1140.6 315.0,1141.5 313.7,1142.2 313.3,1143.5 313.6,1145.4 313.5,1146.5 312.4,1146.3 311.2,1145.8 310.6,1146.7 310.2,1148.7 309.5,1150.4 308.6,1151.0 307.9,1151.7 307.2,1153.7 306.4,1156.2 305.4,1157.3 304.6,1157.0 304.0,1157.2 305.9,1158.0 307.4,1159.0 307.3,1160.3 307.4,1160.9 309.0,1160.6 310.9,1161.1 313.1,1160.9 314.4,1159.4 314.1,1159.6 314.9,1161.5 317.6,1162.6 319.1,1162.7 319.4,1162.1 320.7,1160.4 322.6,1158.8 323.4,1158.8 323.6,1159.3 325.3,1158.7 325.8,1157.0 326.1,1155.0 326.2,1153.6 326.0,1153.2 325.8,1153.2 325.5,1152.5 325.3,1150.7 325.0,1148.6 324.8,1146.9 324.6,1145.9 324.4,1144.9 324.1,1143.3 324.0,1141.1 322.8,1140.6 322.0,1140.7Z" fill="#c47b9d"/>
<path d="M361.6,1157.6 359.9,1158.6 358.8,1160.1 358.5,1161.2 358.0,1161.6 356.8,1162.3 355.9,1163.8 356.1,1165.1 356.6,1165.8 355.8,1166.1 353.7,1167.0 352.4,1168.6 352.8,1169.5 354.8,1170.3 357.4,1169.9 358.2,1170.0 358.8,1170.6 360.8,1170.2 362.4,1170.2 362.5,1171.8 362.9,1172.8 364.0,1173.1 366.1,1173.3 369.6,1172.3 371.6,1171.9 371.2,1173.1 371.4,1173.3 372.1,1172.5 372.4,1172.4 372.9,1173.3 374.6,1172.6 377.2,1171.6 379.0,1172.0 379.2,1172.1 380.7,1170.3 382.1,1167.6 383.1,1168.2 384.8,1170.3 384.4,1169.0 384.2,1167.9 383.8,1167.2 383.2,1166.8 382.3,1166.1 381.4,1164.8 380.8,1162.9 381.2,1161.6 381.7,1160.4 381.9,1159.1 381.8,1157.4 381.1,1157.5 379.9,1158.1 378.9,1158.3 377.4,1158.6 374.9,1159.5 373.3,1159.8 373.5,1159.2 373.6,1159.1 372.0,1159.7 369.9,1159.6 369.4,1158.0 368.8,1157.5 367.5,1157.9 366.1,1157.6 365.2,1156.2 364.4,1156.6 363.2,1157.4 362.8,1157.7 362.9,1157.4Z" fill="#c47b9d"/>
<path d="M470.7,966.8 469.8,968.0 469.2,969.8 468.9,971.3 468.9,972.0 469.0,972.3 469.3,972.9 469.6,974.2 469.6,975.6 469.2,976.5 467.3,977.1 466.2,978.9 466.3,979.9 465.9,979.7 464.1,979.9 463.5,981.2 462.7,982.6 462.5,984.2 462.9,985.7 463.7,986.8 463.8,987.9 463.9,989.0 464.7,989.6 465.6,990.1 466.0,990.6 466.1,991.2 466.5,991.7 467.9,992.0 469.5,994.0 471.4,995.3 472.6,994.6 472.7,994.3 474.3,994.8 477.5,994.5 478.0,993.1 477.3,992.3 476.0,991.7 475.1,990.9 475.5,989.6 476.3,987.7 477.1,985.9 477.4,984.8 477.4,984.5 477.7,984.4 478.3,983.8 478.6,982.3 478.5,980.2 477.9,978.1 479.0,976.8 481.1,976.2 482.2,975.0 482.2,973.1 482.8,971.6 484.7,971.1 486.2,971.1 486.1,970.4 485.2,969.0 485.4,967.6 484.0,967.5 483.0,968.4 482.1,969.0 481.9,967.5 481.2,965.6 479.5,965.3 478.6,965.7 478.0,966.6 475.6,967.8 472.9,968.0 472.0,967.2 471.7,967.0Z" fill="#dfb2c7"/>
<path d="M471.3,1017.4 472.1,1017.1 473.1,1015.4 474.1,1013.0 474.9,1011.6 475.5,1011.3 475.4,1010.7 475.6,1009.7 475.6,1008.0 475.3,1006.0 474.9,1004.2 475.0,1003.0 475.6,1002.3 476.3,1001.6 476.3,1000.5 475.7,999.1 475.3,997.7 476.1,996.2 477.5,994.5 474.3,994.8 472.7,994.3 472.6,994.6 471.4,995.3 469.5,994.0 467.9,992.0 466.5,991.7 466.1,993.0 465.7,994.7 465.0,996.0 464.4,996.6 463.8,997.2 463.1,998.6 462.0,1000.4 460.8,1001.4 459.3,1001.7 457.7,1002.2 456.8,1003.6 457.1,1005.0 457.6,1006.7 459.3,1007.5 460.9,1007.1 460.9,1007.4 461.1,1008.5 462.7,1009.1 464.1,1009.4 464.1,1010.5 464.4,1012.0 466.0,1013.2 467.7,1014.6 468.4,1015.2 469.2,1014.4 470.1,1013.5 470.5,1014.9Z" fill="#a73a6b"/>
<path d="M426.2,1069.2 425.8,1067.1 425.9,1065.3 425.6,1064.4 425.1,1063.3 423.7,1062.1 421.5,1061.6 419.7,1061.1 419.4,1060.2 419.0,1059.7 417.6,1059.3 416.9,1058.1 417.5,1056.6 417.2,1056.3 415.2,1056.4 413.2,1055.1 412.3,1053.5 411.5,1053.3 411.0,1053.9 410.9,1055.7 410.8,1057.3 410.3,1057.9 409.5,1057.6 408.6,1057.8 407.9,1059.8 407.7,1062.8 408.1,1065.2 408.8,1065.8 409.5,1065.6 409.6,1066.1 409.0,1067.9 408.1,1070.0 409.2,1071.2 409.7,1072.6 410.8,1072.7 411.9,1073.2 412.7,1074.6 413.9,1075.1 414.3,1074.8 413.8,1075.7 414.7,1076.9 417.3,1076.9 418.5,1077.0 419.8,1076.4 420.6,1076.4 420.7,1075.8 421.2,1074.6 422.4,1073.4 423.3,1072.7 423.3,1072.0 423.4,1070.6 424.4,1069.3 425.6,1068.9Z" fill="#a73a6b"/>
<path d="M448.8,1000.5 447.2,1001.4 446.3,1001.6 446.1,1001.3 446.0,1000.8 444.4,1001.4 442.7,1001.0 441.5,1000.2 439.8,1000.8 438.1,1001.6 437.5,1001.4 437.8,1002.6 437.5,1003.3 436.4,1004.5 435.8,1006.1 436.0,1007.4 435.9,1008.0 434.5,1008.8 432.7,1010.1 431.8,1011.4 431.9,1012.0 431.3,1012.5 429.6,1013.8 428.5,1015.7 429.8,1016.3 431.6,1015.8 432.2,1015.6 431.7,1016.8 431.6,1019.1 433.2,1020.9 435.3,1020.4 436.2,1019.9 436.8,1018.8 438.6,1018.1 440.6,1018.0 441.3,1017.3 441.1,1015.5 441.8,1014.1 443.6,1014.4 445.1,1015.0 445.7,1015.2 446.1,1016.0 448.6,1016.2 450.7,1016.5 451.2,1017.7 452.2,1018.0 453.5,1018.0 454.7,1018.3 456.5,1017.9 457.9,1017.9 457.4,1019.1 457.1,1019.2 457.5,1016.3 458.7,1014.1 459.8,1013.1 460.3,1012.7 460.0,1012.0 459.4,1010.8 459.1,1009.6 458.9,1008.8 458.4,1008.0 457.6,1006.7 457.1,1005.0 457.6,1003.7 457.3,1003.8 456.3,1003.2 454.8,1002.1 452.4,1002.1 450.8,1001.8 450.2,1000.9Z" fill="#c47b9d"/>
<path d="M405.1,1025.9 406.3,1026.8 406.7,1026.7 405.2,1026.9 403.6,1028.2 404.0,1030.0 405.4,1031.3 405.4,1032.0 403.2,1032.8 401.0,1034.1 400.7,1035.5 401.2,1036.8 400.6,1038.1 398.9,1039.4 398.0,1040.4 398.5,1041.1 399.1,1042.1 399.8,1042.6 399.7,1043.1 399.0,1044.5 398.9,1046.9 400.3,1048.3 402.4,1047.9 403.2,1047.5 402.4,1048.7 402.0,1050.8 403.0,1052.1 404.3,1052.6 404.8,1051.7 406.3,1051.3 408.9,1051.3 410.6,1052.1 410.9,1053.2 411.0,1053.9 411.5,1053.3 412.3,1053.5 413.2,1055.1 414.8,1056.6 416.7,1054.8 418.6,1051.8 419.8,1051.3 420.5,1052.1 421.5,1051.5 423.1,1050.6 424.7,1051.0 425.5,1051.3 425.4,1050.3 425.8,1049.9 427.8,1050.5 430.3,1050.3 431.7,1049.1 432.0,1048.7 432.2,1047.5 432.4,1045.7 432.4,1044.0 432.2,1042.9 431.7,1042.4 430.9,1041.8 429.6,1040.1 429.7,1038.4 429.5,1038.0 428.4,1037.7 427.3,1036.5 426.6,1035.0 425.8,1034.3 425.0,1034.4 424.2,1033.2 422.8,1032.4 421.4,1033.0 421.1,1033.4 420.8,1033.5 418.5,1034.3 415.5,1034.9 414.8,1033.1 415.5,1032.0 415.4,1032.5 414.5,1032.7 413.4,1031.2 412.1,1029.4 410.6,1028.1 409.7,1026.5 408.8,1025.4 406.8,1025.5Z" fill="#a73a6b"/>
<path d="M321.6,985.3 320.8,985.9 319.1,988.1 317.9,989.8 316.8,989.5 314.9,988.5 314.7,988.5 315.0,989.4 315.3,991.4 315.3,993.5 315.2,994.8 315.2,995.4 315.0,996.5 314.4,998.6 313.3,1001.0 312.6,1002.6 312.6,1003.3 313.3,1003.9 313.5,1005.2 312.9,1006.8 311.8,1008.1 314.0,1007.9 315.8,1008.0 316.8,1008.6 318.2,1008.5 319.3,1007.8 319.0,1009.0 319.4,1011.2 321.6,1011.8 323.6,1011.0 323.5,1010.9 323.8,1011.7 325.1,1012.6 325.8,1013.7 326.9,1013.9 329.2,1012.9 330.9,1012.6 332.3,1012.6 333.8,1011.3 333.8,1011.1 334.2,1010.4 335.0,1008.8 335.5,1007.1 335.7,1006.4 336.2,1006.3 337.0,1005.5 337.7,1003.8 337.9,1002.0 337.8,1001.3 338.0,1001.2 338.5,1000.6 338.7,998.8 338.0,997.3 337.0,995.7 336.2,994.2 335.8,993.1 336.6,992.7 334.5,993.3 331.5,993.9 330.8,994.2 330.8,994.7 329.8,993.5 328.6,990.9 326.3,989.9 324.1,990.3 323.7,990.2 323.4,989.7 322.1,988.6 321.7,986.6Z" fill="#dfb2c7"/>
<path d="M451.6,1082.3 452.3,1083.6 453.2,1084.7 453.7,1086.3 453.9,1088.2 454.3,1089.5 455.8,1088.2 456.6,1087.5 457.7,1088.9 460.4,1090.5 462.4,1091.5 462.2,1092.2 462.1,1092.2 463.5,1091.5 465.1,1091.8 463.8,1091.1 462.4,1091.1 462.0,1091.0 462.3,1090.6 461.5,1090.1 459.6,1089.1 460.0,1088.4 461.2,1086.7 462.9,1086.0 464.0,1086.3 464.4,1085.7 465.3,1083.9 466.7,1082.9 468.1,1083.2 469.2,1083.6 470.3,1082.7 469.2,1082.6 468.5,1080.9 468.6,1078.4 468.6,1076.6 467.9,1076.0 466.8,1075.8 466.2,1074.9 466.2,1073.3 466.6,1071.5 466.6,1070.2 465.9,1069.5 464.9,1068.9 463.8,1068.0 462.4,1067.8 460.6,1068.3 459.5,1069.0 459.2,1069.1 458.5,1068.8 456.7,1069.3 455.0,1069.7 454.6,1068.8 454.9,1067.9 453.8,1068.0 451.9,1067.4 450.0,1066.3 448.3,1066.5 448.0,1066.5 448.3,1065.7 446.1,1065.2 442.7,1064.4 442.4,1065.6 443.5,1066.4 443.8,1066.7 442.3,1067.2 440.5,1068.4 440.0,1069.9 440.4,1070.6 440.7,1071.4 440.2,1072.4 439.2,1073.9 438.6,1075.6 439.2,1077.3 440.6,1078.3 442.3,1078.8 443.7,1077.8 443.2,1078.8 443.7,1081.3 446.0,1082.1 447.5,1081.7 448.5,1081.0 450.3,1080.0 451.4,1080.7Z" fill="#a73a6b"/>
<path d="M444.0,1053.9 444.2,1052.8 444.3,1051.9 444.0,1052.6 443.7,1053.2 443.1,1055.4 442.7,1057.4 443.2,1058.7 444.5,1059.2 445.8,1059.2 446.1,1059.2 445.1,1059.8 443.6,1060.9 442.6,1062.5 442.7,1064.4 446.1,1065.2 448.3,1065.7 448.0,1066.5 448.3,1066.5 450.0,1066.3 451.9,1067.4 453.8,1068.0 454.9,1067.9 454.6,1068.8 455.0,1069.7 456.7,1069.3 458.5,1068.8 459.2,1069.1 459.5,1069.0 460.6,1068.3 462.4,1067.8 463.8,1068.0 463.3,1067.1 462.9,1066.2 464.0,1065.3 464.2,1063.9 465.2,1062.9 466.8,1062.7 465.8,1061.5 464.8,1059.7 463.6,1058.4 462.4,1057.7 462.3,1057.0 462.6,1056.4 461.6,1056.4 461.3,1054.8 460.3,1053.5 459.2,1052.5 458.8,1051.6 459.5,1050.5 461.0,1049.0 462.6,1047.2 461.3,1047.1 458.3,1048.6 456.7,1049.0 456.3,1048.6 454.5,1048.9 453.2,1050.1 452.3,1052.3 452.3,1053.7 452.2,1053.0 451.0,1051.9 449.2,1052.4 448.4,1054.6 448.2,1056.3 448.0,1055.7 446.9,1055.4 445.2,1057.2 443.8,1058.9 443.3,1057.9 443.6,1056.1Z" fill="#c47b9d"/>
<path d="M343.9,940.9 341.7,941.2 340.0,942.8 340.1,942.9 339.2,942.2 336.1,942.5 333.9,943.2 333.7,943.8 333.3,944.3 332.1,945.8 331.0,947.6 329.9,948.1 327.5,947.3 324.8,947.2 324.0,948.1 325.3,948.6 325.3,950.0 324.2,951.0 322.9,951.5 322.5,952.2 322.9,953.4 322.8,954.1 323.5,954.9 325.4,955.3 327.4,955.4 328.8,955.7 328.5,956.4 328.1,955.9 328.8,955.7 331.5,956.3 334.4,956.3 335.0,956.3 335.2,956.8 337.7,956.8 339.9,957.1 339.4,957.6 339.5,956.7 340.9,956.9 342.1,957.4 342.8,958.4 343.7,958.8 345.9,958.2 346.7,959.4 347.5,960.6 349.7,959.9 350.9,959.6 350.7,960.9 351.3,961.1 352.2,959.1 353.6,957.1 354.6,956.0 355.0,955.4 355.4,955.0 356.1,954.0 356.7,952.5 357.1,950.9 357.7,949.6 356.8,948.0 355.4,947.4 354.4,947.0 353.4,946.6 352.0,946.2 351.4,945.0 352.3,943.2 353.0,942.5 351.4,942.8 348.7,942.1 347.4,939.6 347.6,937.3 346.4,938.3 344.8,940.3 344.2,941.8 344.4,941.6Z" fill="#c47b9d"/>
<path d="M374.0,968.4 372.9,969.7 371.8,971.3 371.6,973.1 372.0,974.6 372.5,975.6 372.5,976.2 372.1,976.7 371.9,977.4 372.2,978.6 372.6,979.9 372.9,980.4 372.6,981.5 371.7,982.9 371.0,984.8 371.4,986.8 372.4,988.2 372.6,988.8 371.3,989.3 369.4,990.1 368.4,991.6 368.9,993.3 370.1,994.5 370.6,995.1 370.8,994.5 371.6,993.6 372.6,994.9 373.8,998.0 375.5,999.0 376.4,997.7 376.8,996.6 379.0,995.9 381.5,995.5 381.7,996.2 380.7,995.9 381.6,995.3 384.6,994.6 386.8,994.2 386.6,993.7 386.3,993.0 387.9,992.4 390.2,991.9 390.6,991.0 389.9,990.0 388.2,988.9 386.8,987.7 386.6,986.2 387.6,984.4 389.0,982.6 390.4,982.8 390.1,983.2 390.3,982.0 392.5,979.9 394.7,978.8 392.7,978.1 390.9,976.5 390.7,974.1 391.6,972.2 392.2,971.6 391.5,971.8 388.8,972.0 387.5,971.0 386.9,970.7 386.5,970.1 386.3,968.3 385.0,967.7 382.9,968.3 381.9,968.2 380.5,967.7 377.9,967.8 375.8,967.8 375.9,967.5 376.9,967.8 376.7,968.9 375.5,969.2Z" fill="#fbf4f6"/>
<path d="M355.9,985.8 357.8,983.3 359.5,983.1 359.5,984.0 359.4,983.5 360.8,981.9 362.3,981.2 362.7,981.0 363.2,980.1 365.0,978.7 365.7,976.9 365.8,975.1 364.9,973.9 363.8,973.5 362.7,972.4 362.4,972.0 361.2,972.2 359.9,970.9 359.4,968.6 358.6,967.9 357.2,968.7 356.3,968.7 355.8,967.9 354.8,968.9 353.7,970.7 353.2,972.4 352.8,973.1 351.5,973.2 349.9,973.9 349.5,975.2 350.3,976.1 350.4,976.4 350.5,977.6 351.4,978.9 352.3,979.7 352.1,980.8 351.8,982.2 352.7,983.3 354.0,984.3 355.0,985.4Z" fill="#dfb2c7"/>
<path d="M317.4,1029.8 316.5,1028.9 316.7,1029.2 315.8,1029.3 313.8,1028.2 310.8,1028.1 308.5,1029.1 308.6,1028.5 308.5,1026.9 306.3,1025.9 305.1,1025.6 305.4,1027.5 305.6,1029.0 304.2,1029.5 301.7,1029.7 299.9,1030.4 299.3,1031.0 300.0,1033.0 301.0,1034.0 302.0,1034.3 302.2,1034.8 301.6,1036.4 301.2,1038.6 302.0,1040.0 303.7,1040.1 305.2,1039.7 305.8,1040.3 305.7,1042.2 305.5,1044.4 304.5,1045.9 303.7,1046.6 303.5,1047.1 303.4,1048.4 302.9,1050.1 302.3,1051.2 302.9,1052.6 304.1,1052.9 305.1,1053.1 305.5,1054.1 306.3,1055.7 307.9,1057.0 309.3,1057.8 309.3,1058.9 308.5,1060.6 308.5,1062.1 309.9,1062.8 311.5,1062.2 312.5,1060.9 313.5,1060.3 314.5,1059.8 315.4,1058.3 316.3,1056.8 317.4,1057.2 318.3,1058.6 319.0,1058.2 320.1,1055.6 319.7,1054.0 319.3,1053.1 319.1,1052.2 319.3,1050.6 319.5,1048.5 319.8,1046.7 319.9,1046.1 319.9,1046.2 318.4,1046.2 316.9,1045.5 316.4,1043.5 316.9,1041.7 317.2,1039.7 317.6,1038.1 318.4,1037.3 319.3,1037.3 319.7,1037.4 319.3,1037.0 318.5,1035.9 317.8,1034.4 317.5,1032.9 317.5,1031.5Z" fill="#c47b9d"/>
<path d="M362.6,930.8 361.8,930.1 360.5,931.1 359.4,931.7 359.3,931.0 358.4,931.1 356.7,931.5 355.6,931.1 353.7,931.0 351.3,931.0 350.8,932.2 351.1,933.2 351.0,934.1 350.6,935.3 349.5,936.7 348.2,937.7 347.5,938.1 347.6,937.5 347.6,937.3 347.4,939.6 348.7,942.1 351.4,942.8 353.0,942.5 352.3,943.2 351.4,945.0 352.0,946.2 353.4,946.6 354.4,947.0 355.4,947.4 356.8,948.0 357.7,949.6 358.2,950.5 358.4,949.8 359.8,948.1 361.3,948.6 362.3,950.6 363.8,950.1 366.4,947.3 368.4,946.1 368.7,946.9 369.2,948.2 369.8,949.9 370.0,951.6 370.2,952.7 371.2,952.4 372.5,950.3 374.2,950.9 375.7,952.3 376.6,951.6 377.2,950.5 378.7,951.5 380.7,953.2 381.4,953.2 381.4,951.7 381.6,949.5 382.9,948.0 384.3,947.5 384.9,947.0 384.6,945.5 384.3,943.3 384.5,941.4 384.8,940.5 384.8,939.8 384.4,938.5 384.3,936.6 383.7,935.9 383.6,935.4 383.4,935.1 381.7,935.2 379.3,935.9 378.6,935.0 378.5,934.0 376.9,934.8 374.8,936.0 373.8,936.0 373.1,935.8 371.9,936.1 371.1,936.1 370.4,935.7 368.3,935.6 366.7,934.5 366.2,933.2 366.3,932.5 365.4,932.5 363.7,932.1Z" fill="#a73a6b"/>
<path d="M358.9,1116.1 356.2,1116.1 356.0,1115.3 357.4,1114.8 357.6,1115.3 355.9,1116.4 354.1,1116.8 353.6,1118.7 353.2,1119.3 352.6,1119.6 351.8,1120.8 351.0,1123.0 350.6,1124.7 350.7,1125.1 351.0,1125.1 351.0,1126.1 350.9,1128.3 350.8,1129.1 350.6,1130.0 350.9,1130.9 351.6,1132.3 352.4,1133.6 353.4,1134.0 354.5,1133.6 355.1,1133.8 355.8,1135.4 357.2,1137.1 357.9,1137.6 358.1,1137.4 357.7,1137.7 358.0,1138.5 360.4,1138.8 362.9,1139.1 364.0,1140.1 364.8,1140.8 365.6,1141.2 365.9,1142.2 366.6,1142.9 368.8,1141.3 370.0,1141.2 369.4,1142.0 369.7,1141.9 372.7,1140.8 376.0,1140.2 375.5,1139.5 374.5,1139.0 374.1,1138.2 374.4,1136.3 374.8,1133.7 374.8,1131.7 374.5,1130.9 374.5,1130.6 375.1,1129.5 375.3,1127.9 374.4,1127.3 372.0,1127.2 370.5,1126.0 370.7,1124.5 370.8,1124.2 369.8,1123.9 368.5,1122.4 366.8,1121.3 366.6,1121.2 364.7,1121.2 364.2,1120.3 364.4,1118.6 363.4,1117.8 362.0,1117.2 361.0,1116.4Z" fill="#a73a6b"/>
<path d="M332.3,1122.8 334.6,1122.7 334.8,1123.5 334.2,1125.3 335.3,1126.8 337.5,1128.1 339.0,1129.5 340.0,1130.2 340.5,1128.6 340.5,1127.9 340.9,1128.8 342.6,1128.9 344.3,1128.0 345.3,1128.4 347.0,1129.7 349.5,1129.7 350.9,1128.3 351.0,1126.1 351.0,1125.1 350.7,1125.1 350.6,1124.7 351.0,1123.0 351.8,1120.8 352.6,1119.6 353.2,1119.3 353.6,1118.7 354.1,1116.8 352.8,1115.6 351.2,1115.3 350.3,1114.9 350.3,1113.6 349.8,1112.2 347.9,1111.2 346.3,1110.0 345.1,1110.0 344.1,1111.3 343.3,1111.5 343.4,1109.7 342.9,1108.9 341.1,1110.3 339.6,1112.6 338.7,1113.6 338.3,1113.5 337.6,1113.9 336.5,1115.8 335.6,1117.9 335.7,1118.7 336.0,1118.9 335.5,1120.1 334.2,1122.0 333.0,1123.0Z" fill="#a73a6b"/>
<path d="M439.2,1129.0 440.0,1128.3 440.1,1128.4 439.7,1130.1 439.1,1133.0 438.8,1135.8 439.0,1137.7 439.7,1138.6 440.7,1139.3 441.5,1140.4 442.0,1141.9 442.1,1143.4 442.2,1144.4 442.3,1145.0 442.6,1145.7 442.9,1146.9 443.0,1148.4 443.9,1148.9 444.2,1149.9 445.3,1150.5 447.2,1150.2 448.2,1149.6 448.4,1149.6 448.6,1149.4 448.9,1149.6 449.2,1150.9 451.2,1151.2 454.0,1151.3 455.5,1150.9 455.5,1149.6 455.9,1147.9 457.8,1146.8 459.3,1146.7 460.1,1146.7 460.9,1145.6 462.5,1144.2 463.9,1143.6 464.0,1143.5 463.2,1143.3 463.2,1142.0 464.1,1139.6 465.1,1137.4 466.2,1136.5 466.0,1136.7 466.0,1136.3 468.1,1135.5 470.8,1135.6 471.7,1135.9 470.1,1134.4 469.4,1132.6 469.1,1131.5 468.2,1131.5 466.8,1131.1 465.4,1129.6 464.5,1128.4 463.5,1128.3 462.9,1128.6 462.3,1127.9 460.2,1128.4 457.9,1130.6 457.8,1131.5 458.5,1130.6 456.7,1129.7 453.8,1129.2 453.4,1127.6 453.3,1127.2 452.5,1128.2 451.2,1128.6 450.2,1127.3 447.9,1126.5 445.7,1127.1 445.9,1127.1 446.9,1126.1 445.6,1125.4 442.9,1125.6 441.6,1126.5 440.7,1128.0 440.2,1128.9Z" fill="#c47b9d"/>
<path d="M439.2,1129.0 440.2,1128.9 440.7,1128.0 439.5,1127.2 438.5,1125.5 438.4,1122.9 438.8,1120.7 438.9,1119.8 438.3,1120.0 437.2,1120.2 436.4,1119.1 436.0,1117.0 435.8,1114.7 433.6,1114.4 432.6,1114.6 433.2,1114.6 432.3,1115.2 430.0,1115.4 429.1,1114.8 428.4,1115.1 426.2,1115.4 424.3,1113.8 422.9,1112.8 421.8,1113.6 421.4,1113.9 420.3,1113.4 420.7,1114.8 421.1,1116.7 421.2,1118.1 421.0,1118.7 420.5,1119.1 419.8,1119.9 419.3,1121.7 419.0,1123.7 419.0,1125.3 419.3,1126.1 420.0,1126.5 421.2,1127.2 422.3,1127.7 423.5,1128.4 424.1,1130.7 425.2,1132.2 426.5,1131.4 426.6,1131.2 427.5,1132.1 430.5,1131.3 432.5,1131.3 432.3,1131.4 432.4,1130.9 434.0,1130.5 435.6,1130.7 436.1,1130.7 437.0,1129.9Z" fill="#c47b9d"/>
<path d="M279.9,1043.8 279.5,1044.9 280.4,1046.5 281.9,1047.8 282.7,1048.8 283.6,1048.5 284.5,1047.9 284.8,1048.8 285.1,1050.9 286.3,1051.8 287.6,1051.9 288.6,1052.0 290.8,1052.4 293.6,1051.8 294.7,1051.4 294.4,1051.7 294.9,1051.4 296.6,1050.3 297.9,1050.1 299.1,1050.6 300.7,1050.5 301.7,1050.4 302.3,1051.2 302.9,1050.1 303.4,1048.4 303.5,1047.1 303.7,1046.6 304.5,1045.9 305.5,1044.4 305.7,1042.2 305.8,1040.3 305.2,1039.7 303.7,1040.1 302.0,1040.0 301.2,1038.6 301.6,1036.4 302.2,1034.8 302.0,1034.3 301.0,1034.0 300.0,1033.0 299.3,1031.0 298.5,1030.1 296.8,1029.7 295.8,1029.9 296.1,1031.1 296.8,1032.0 295.8,1031.8 293.1,1030.4 290.8,1029.7 288.7,1031.3 287.2,1031.6 286.8,1029.2 286.0,1028.2 284.8,1029.5 284.7,1030.3 283.6,1029.9 280.7,1028.9 278.8,1028.0 278.1,1029.0 277.2,1030.1 276.7,1028.7 275.9,1027.5 273.7,1028.8 273.1,1030.1 273.0,1031.5 273.6,1032.6 274.5,1033.3 274.7,1034.4 274.6,1035.8 274.7,1036.9 275.4,1037.5 276.7,1037.9 276.9,1038.8 276.3,1041.0 276.5,1043.3 278.1,1044.1 279.7,1043.8Z" fill="#a73a6b"/>
<path d="M330.3,1030.3 328.3,1029.2 326.8,1030.0 326.5,1030.4 326.6,1028.6 324.5,1027.1 321.5,1027.1 320.8,1027.8 320.4,1028.7 319.8,1029.4 318.7,1029.6 317.4,1029.8 317.5,1031.5 317.5,1032.9 317.8,1034.4 318.5,1035.9 319.3,1037.0 319.7,1037.4 319.3,1037.3 318.4,1037.3 317.6,1038.1 317.2,1039.7 316.9,1041.7 316.4,1043.5 316.9,1045.5 318.4,1046.2 319.9,1046.2 319.9,1046.1 319.8,1046.7 319.5,1048.5 319.3,1050.6 319.1,1052.2 319.3,1053.1 319.7,1054.0 320.1,1055.6 320.8,1055.6 321.6,1056.4 324.0,1057.1 326.0,1058.1 326.4,1059.2 326.8,1059.4 327.4,1060.0 328.5,1061.9 331.0,1062.9 331.4,1062.3 331.4,1060.8 332.4,1058.3 333.7,1056.6 334.0,1056.3 333.9,1055.9 334.9,1054.7 336.9,1053.6 338.3,1053.1 338.6,1052.2 339.0,1050.3 339.8,1049.0 340.5,1049.0 340.9,1049.0 339.8,1047.7 338.8,1046.3 338.0,1045.1 337.9,1043.8 337.2,1042.9 335.0,1042.5 333.4,1041.5 334.3,1040.1 335.9,1038.6 336.9,1037.3 336.7,1036.3 335.6,1035.7 333.8,1035.9 331.8,1035.1 331.3,1033.2 331.9,1031.5 332.2,1031.1 331.4,1031.2Z" fill="#c47b9d"/>
<path d="M331.0,1062.9 332.4,1062.9 332.7,1062.7 331.8,1063.3 330.4,1065.1 329.4,1067.8 329.8,1070.2 331.4,1071.6 333.0,1071.1 334.7,1071.0 335.6,1071.9 336.6,1073.2 337.4,1074.7 337.3,1076.3 337.1,1077.4 338.0,1077.5 339.3,1077.4 339.9,1078.1 340.3,1079.0 341.0,1078.1 342.8,1077.4 343.7,1076.9 343.8,1076.5 344.7,1076.5 346.6,1076.9 348.0,1076.8 348.6,1075.4 349.5,1073.9 350.8,1073.4 351.6,1073.2 352.3,1072.1 354.3,1071.1 356.8,1071.4 357.6,1071.7 356.5,1071.3 355.7,1070.1 355.7,1067.8 355.0,1066.2 353.6,1065.4 352.1,1064.5 350.3,1063.7 348.4,1063.4 348.0,1062.8 348.8,1062.1 349.2,1061.3 349.0,1060.2 348.1,1058.5 347.1,1056.5 346.4,1054.7 346.6,1053.5 347.3,1052.8 347.9,1052.2 348.2,1051.1 347.9,1049.7 347.3,1049.4 345.4,1048.7 344.4,1047.8 342.7,1048.6 340.9,1049.0 340.5,1049.0 339.8,1049.0 339.0,1050.3 338.6,1052.2 338.3,1053.1 336.9,1053.6 334.9,1054.7 333.9,1055.9 334.0,1056.3 333.7,1056.6 332.4,1058.3 331.4,1060.8 331.4,1062.3Z" fill="#dfb2c7"/>
<path d="M438.7,982.1 435.6,983.9 434.9,985.8 435.6,985.7 434.7,985.0 432.2,986.2 431.2,987.8 431.6,988.9 432.9,989.7 433.9,990.6 433.6,991.8 432.1,993.2 432.2,995.4 433.4,996.4 434.3,996.4 434.4,997.0 435.3,998.0 436.7,999.5 437.5,1001.4 438.1,1001.6 439.8,1000.8 441.5,1000.2 442.7,1001.0 444.4,1001.4 446.0,1000.8 446.1,1001.3 446.3,1001.6 447.2,1001.4 448.8,1000.5 450.2,1000.9 450.8,1001.8 452.4,1002.1 454.8,1002.1 456.3,1003.2 457.3,1003.8 457.6,1003.7 457.1,1005.0 456.8,1003.6 457.7,1002.2 459.3,1001.7 460.8,1001.4 462.0,1000.4 463.1,998.6 463.8,997.2 464.4,996.6 465.0,996.0 465.7,994.7 466.1,993.0 466.5,991.7 466.1,991.2 466.0,990.6 465.6,990.1 464.7,989.6 463.9,989.0 463.8,987.9 463.7,986.8 462.9,986.6 460.0,987.0 458.6,987.3 458.6,987.0 457.1,987.0 454.7,987.7 454.0,988.2 453.6,988.4 451.4,988.7 449.3,989.2 449.9,988.1 449.6,987.5 448.3,987.1 447.3,986.1 447.3,984.7 447.6,985.4 445.8,985.6 443.2,984.4 441.8,983.0 441.3,983.5 441.2,984.0 440.8,983.0Z" fill="#dfb2c7"/>
<path d="M390.2,991.9 387.9,992.4 386.3,993.0 386.6,993.7 386.8,994.2 384.6,994.6 381.6,995.3 380.7,995.9 381.7,996.2 381.4,998.3 381.0,1000.7 380.9,1002.4 381.3,1003.2 382.1,1003.3 383.0,1003.8 383.6,1005.0 383.6,1007.0 383.1,1008.9 382.6,1010.2 382.5,1011.1 382.9,1011.9 383.7,1013.1 384.5,1014.6 385.4,1015.8 386.7,1016.0 387.6,1014.7 387.3,1015.0 388.0,1016.5 389.9,1017.3 390.8,1018.2 391.4,1019.3 393.4,1019.1 395.0,1018.5 395.5,1019.1 396.7,1020.1 398.5,1021.6 399.5,1022.9 399.9,1022.9 400.8,1020.7 401.7,1019.1 402.5,1020.0 402.9,1019.5 403.5,1018.8 403.6,1017.4 403.3,1015.9 403.4,1014.7 404.3,1013.7 405.6,1012.7 406.2,1011.7 405.4,1010.8 404.0,1010.1 403.3,1009.1 403.6,1007.4 404.2,1005.1 404.1,1003.0 403.4,1001.8 403.7,1000.9 403.7,1000.8 403.0,1000.7 401.6,1000.1 400.8,999.1 399.9,999.4 398.4,999.7 397.4,999.0 396.5,997.4 395.1,996.0 394.4,994.7 393.8,993.9 391.7,994.2 389.1,994.4 388.8,993.2 390.1,992.1Z" fill="#dfb2c7"/>
<path d="M457.6,1006.7 458.4,1008.0 458.9,1008.8 459.1,1009.6 459.4,1010.8 460.0,1012.0 460.3,1012.7 459.8,1013.1 458.7,1014.1 457.5,1016.3 457.1,1019.2 459.0,1018.9 461.3,1018.2 462.9,1018.8 464.3,1019.7 464.9,1019.2 465.2,1018.3 465.3,1017.3 466.1,1016.1 466.9,1014.8 466.9,1013.8 467.7,1014.6 466.0,1013.2 464.4,1012.0 464.1,1010.5 464.1,1009.4 462.7,1009.1 461.1,1008.5 460.9,1007.4 460.9,1007.1 459.3,1007.5Z" fill="#c47b9d"/>
<path d="M356.3,992.1 359.2,991.5 361.8,990.7 362.6,992.2 363.2,994.0 363.8,994.3 363.6,994.7 364.9,995.2 368.2,995.1 370.4,995.1 370.6,995.1 370.1,994.5 368.9,993.3 368.4,991.6 369.4,990.1 371.3,989.3 372.6,988.8 372.4,988.2 371.4,986.8 371.0,984.8 371.7,982.9 372.6,981.5 372.9,980.4 372.6,979.9 371.3,979.8 370.7,980.3 370.4,980.4 368.6,980.4 366.5,979.6 365.0,978.7 363.2,980.1 362.7,981.0 362.3,981.2 360.8,981.9 359.4,983.5 359.5,984.0 359.5,983.1 357.8,983.3 355.9,985.8 355.9,987.3 356.1,987.6 355.8,988.8 355.6,990.6Z" fill="#fbf4f6"/>
<path d="M363.8,973.5 365.3,974.0 367.4,972.7 368.8,970.8 368.6,970.0 368.5,969.6 370.1,968.7 372.6,967.6 371.2,967.5 370.1,966.8 370.1,964.8 370.0,962.7 368.6,962.4 366.9,963.0 366.4,964.2 365.2,965.8 362.6,966.0 360.6,964.5 359.9,963.8 359.0,964.6 357.8,964.8 356.5,964.3 355.1,964.7 355.7,966.5 355.8,967.9 356.3,968.7 357.2,968.7 358.6,967.9 359.4,968.6 359.9,970.9 361.2,972.2 362.4,972.0 362.7,972.4Z" fill="#fbf4f6"/>
<path d="M372.6,967.6 370.1,968.7 368.5,969.6 368.6,970.0 368.8,970.8 367.4,972.7 365.3,974.0 363.8,973.5 364.9,973.9 365.8,975.1 365.7,976.9 365.0,978.7 366.5,979.6 368.6,980.4 370.4,980.4 370.7,980.3 371.3,979.8 372.6,979.9 372.2,978.6 371.9,977.4 372.1,976.7 372.5,976.2 372.5,975.6 372.0,974.6 371.6,973.1 371.8,971.3 372.9,969.7 374.0,968.4Z" fill="#fbf4f6"/>
</g>
<circle cx="367.4" cy="975.0" r="2.3" fill="#fbf4f6" stroke="#4a1a33" stroke-width="0.4"/>
<circle cx="367.4" cy="975.0" r="0.9" fill="#dfb2c7"/>
</svg>
<svg class="b" style="left:0;top:0" width="900" height="1273" viewBox="0 0 900 1273">
<g stroke="#33202b" stroke-width="0.6" stroke-linejoin="round">
<path d="M524.4,1148.2 525.4,1148.3 526.2,1148.5 526.6,1149.0 526.7,1150.3 526.5,1151.8 526.3,1153.2 526.2,1154.4 526.4,1155.3 526.9,1156.0 527.5,1156.6 528.1,1157.0 528.4,1157.7 528.4,1158.5 528.1,1159.7 528.0,1160.9 528.0,1162.2 528.3,1163.4 528.9,1164.2 529.8,1165.0 530.5,1165.7 530.9,1166.6 531.0,1167.5 530.9,1168.4 530.8,1169.2 530.8,1169.9 530.6,1170.4 530.7,1171.1 530.8,1171.9 530.9,1172.9 530.8,1174.1 530.4,1175.4 529.7,1176.7 529.2,1177.8 529.1,1178.7 529.2,1179.4 529.3,1180.0 529.1,1180.8 528.6,1181.6 528.1,1182.5 527.8,1183.3 528.1,1184.1 528.5,1185.0 528.8,1186.0 528.7,1187.1 528.2,1188.2 527.6,1189.3 527.2,1190.2 527.0,1191.1 527.2,1191.8 527.1,1192.5 526.4,1193.2 525.4,1194.1 524.4,1195.2 523.9,1196.4 524.1,1197.5 524.3,1198.3 524.1,1199.0 523.9,1198.4 523.4,1198.1 522.6,1197.8 521.8,1197.2 521.1,1196.3 520.4,1195.7 519.6,1195.6 518.6,1195.6 518.0,1195.1 517.4,1194.2 516.7,1193.3 515.7,1192.8 514.7,1192.4 514.0,1191.8 513.7,1190.9 513.2,1190.0 512.6,1189.1 512.0,1188.2 511.7,1187.4 512.1,1186.9 512.3,1186.4 512.3,1185.7 511.8,1185.1 511.5,1184.7 511.0,1184.4 510.1,1184.0 509.1,1183.0 509.5,1182.4 510.0,1181.6 510.9,1180.8 512.0,1180.0 511.0,1179.4 510.0,1178.7 509.4,1177.9 509.1,1177.3 508.7,1177.0 508.2,1176.7 508.3,1175.5 508.7,1174.1 509.8,1172.9 509.5,1172.4 508.9,1171.8 508.3,1170.9 507.7,1169.9 507.2,1169.0 507.8,1168.0 508.0,1167.4 507.9,1166.9 508.0,1166.1 508.3,1165.0 509.0,1163.7 509.6,1162.6 510.3,1162.5 511.1,1162.7 512.0,1162.5 513.3,1161.6 514.7,1160.5 515.9,1159.8 516.5,1159.7 516.6,1159.4 516.8,1158.5 517.4,1157.2 518.6,1156.1 519.8,1155.9 520.6,1156.6 521.2,1157.5 521.8,1157.8 522.6,1157.4 523.4,1156.8 523.7,1155.3 523.8,1154.0 523.8,1153.1 523.6,1152.5 523.2,1152.2 522.8,1151.7 522.4,1150.9 522.9,1150.2 523.6,1149.2Z" fill="#fbf4f6" />
<path d="M508,1170 L514.7,1172 520,1176.7 523.3,1183.3 526.7,1184.7 528,1183.3" fill="none"/>
<path d="M148.8,923.1 148.9,922.3 149.1,921.1 149.5,919.6 149.8,918.3 150.0,917.4 150.0,917.1 150.1,916.8 150.9,917.6 152.2,917.6 153.9,916.7 155.3,915.9 156.2,916.3 157.0,917.3 158.0,917.9 158.8,918.1 159.2,918.1 159.9,918.1 161.2,918.0 162.4,918.1 163.1,918.3 163.8,918.1 164.9,917.5 166.2,917.2 167.2,918.2 168.2,919.8 169.4,920.5 170.4,920.2 171.1,919.6 171.8,919.4 173.1,919.4 174.4,919.6 175.1,920.1 175.4,920.7 176.1,920.9 177.2,920.8 178.4,920.9 179.6,921.6 180.7,922.5 181.7,923.0 182.3,923.2 182.2,923.8 181.8,924.4 181.2,925.0 180.6,925.7 180.3,926.5 180.2,927.4 180.3,928.4 179.7,928.8 179.3,929.6 178.4,930.2 177.0,930.4 175.6,930.7 174.8,931.1 174.3,931.5 173.7,931.7 172.9,931.4 172.0,931.2 170.8,931.5 169.5,932.2 168.6,931.6 168.1,930.7 168.0,929.7 167.7,929.4 166.6,929.4 165.3,929.0 164.0,928.5 163.1,928.1 162.4,928.2 162.1,928.0 161.9,927.2 161.0,926.2 159.1,925.8 157.2,925.7 156.3,925.8 155.7,926.0 154.8,926.1 153.6,925.5 152.8,924.2 152.2,923.4 151.3,923.6 150.2,924.0 149.4,923.8Z" fill="#fbf4f6" />
<path d="M143.2,925.4 144.0,925.7 144.1,925.9 144.1,925.6 144.9,924.9 146.5,924.1 148.3,924.0 149.4,924.5 150.0,925.1 150.6,925.0 151.3,924.2 152.0,923.9 152.7,924.5 153.6,925.5 154.8,926.1 155.7,926.0 156.3,925.8 157.2,925.7 159.1,925.8 161.0,926.2 161.9,927.2 162.1,928.0 162.4,928.2 163.1,928.1 164.0,928.5 165.3,929.0 166.2,929.7 167.1,929.9 167.6,930.1 167.8,930.6 167.8,931.7 167.9,933.1 168.3,934.2 168.4,935.0 168.5,936.0 168.6,937.2 168.6,938.3 168.6,939.1 168.7,939.6 168.8,939.9 168.6,940.5 168.1,941.4 167.3,942.5 166.3,943.7 165.4,944.5 164.7,944.9 164.1,945.3 163.7,946.0 163.2,947.1 162.8,948.3 162.7,949.5 162.6,950.2 162.4,950.5 162.1,950.8 161.6,951.7 161.1,952.9 160.7,954.1 160.4,955.1 160.1,955.7 159.7,956.2 159.2,956.9 158.6,958.1 157.4,957.7 156.3,957.5 155.8,957.1 155.7,956.8 155.3,956.7 154.2,956.3 153.1,955.6 152.5,954.4 152.4,953.2 152.5,952.2 152.3,951.7 151.7,951.4 150.9,950.6 150.3,949.3 149.8,948.0 149.5,946.9 149.1,946.2 148.6,945.7 148.1,945.3 147.6,944.7 146.9,944.0 146.7,943.3 146.7,942.6 146.9,941.5 147.2,940.1 147.4,938.7 147.4,937.5 147.3,936.6 147.1,936.2 146.9,935.9 146.3,935.4 146.1,934.6 146.1,933.5 145.7,932.6 144.8,931.8 143.9,931.1 143.1,930.3 142.9,929.1 142.8,927.9 142.9,926.9 143.1,926.1Z" fill="#dfb2c7" />
<path d="M168.8,939.9 169.1,940.0 169.2,940.8 169.7,941.7 170.7,942.4 171.6,942.9 172.1,943.4 172.7,943.4 174.0,943.0 175.6,942.7 177.0,942.9 178.2,943.2 179.2,943.2 180.0,943.2 180.3,943.8 180.8,944.7 181.0,945.7 181.0,946.4 180.9,947.0 180.7,947.8 180.5,948.8 180.4,949.9 180.5,951.1 180.6,951.9 180.6,952.5 180.5,952.9 180.1,953.5 179.8,954.2 179.6,955.2 179.4,956.2 179.1,957.2 178.6,958.3 178.2,959.5 177.8,960.6 177.6,961.7 177.2,962.5 176.6,963.2 175.8,963.9 175.0,964.9 174.2,965.6 173.8,965.6 173.2,965.2 171.9,965.2 170.8,965.6 170.4,966.0 170.4,966.1 169.7,966.1 167.7,966.1 165.6,966.1 164.5,966.0 164.3,966.0 164.0,966.2 162.9,966.5 161.4,966.9 160.3,967.6 159.9,965.9 159.7,964.3 159.5,963.0 159.4,962.1 159.3,961.5 159.2,961.0 159.0,960.3 158.8,959.3 158.6,958.1 159.2,956.9 159.7,956.2 160.1,955.7 160.4,955.1 160.7,954.1 161.1,952.9 161.6,951.7 162.1,950.8 162.4,950.5 162.6,950.2 162.7,949.5 162.8,948.3 163.2,947.1 163.7,946.0 164.1,945.3 164.7,944.9 165.4,944.5 166.3,943.7 167.3,942.5 168.1,941.4 168.6,940.5Z" fill="#fbf4f6" />
<path d="M182.3,924.1 182.8,924.1 184.3,923.7 186.0,923.4 186.9,923.3 187.1,923.2 187.7,922.7 189.0,922.2 190.5,922.5 191.6,923.6 192.3,924.4 193.0,923.9 194.0,922.7 195.1,922.0 196.2,922.2 197.4,922.6 198.1,922.5 198.4,922.0 198.7,921.8 199.8,922.1 200.4,923.0 201.4,923.9 202.4,924.8 203.1,925.8 203.7,926.8 204.5,927.5 205.3,928.0 205.9,928.6 206.3,929.8 206.5,931.3 206.9,932.2 207.6,932.5 208.2,932.6 208.9,933.1 209.9,933.5 211.0,933.8 211.7,934.1 211.8,934.9 211.8,936.2 212.6,937.3 213.5,938.1 214.5,938.9 215.2,939.7 215.4,940.7 215.0,941.8 214.5,943.0 214.2,944.1 214.5,945.0 215.1,945.9 216.0,946.8 216.7,947.9 216.3,948.9 215.5,949.8 214.6,950.5 214.0,951.2 213.8,952.2 213.7,953.3 213.5,954.5 213.0,955.4 212.4,955.8 211.9,956.2 211.6,956.9 211.4,958.2 211.6,959.5 211.5,960.8 211.4,961.9 211.3,962.7 211.2,963.3 209.8,962.8 208.4,962.2 207.5,962.1 207.0,962.6 206.4,963.2 205.2,963.4 203.9,963.3 202.9,963.6 202.1,964.3 201.2,964.8 200.1,964.8 198.7,965.0 197.3,965.6 197.5,966.9 197.8,967.7 197.9,968.2 197.5,968.6 197.0,969.2 196.6,970.2 196.5,971.4 195.6,972.5 194.7,973.4 193.6,973.4 192.2,973.0 190.7,973.0 189.7,973.5 189.3,974.1 189.1,974.4 188.5,974.5 187.4,975.1 186.0,975.9 184.8,976.2 184.1,976.1 183.7,975.6 182.8,975.2 181.1,974.9 179.6,974.3 178.9,973.6 178.7,973.3 178.6,972.8 178.3,972.6 177.9,972.3 177.4,971.6 177.0,970.4 176.6,968.9 176.2,967.4 175.7,966.3 175.3,965.5 175.0,964.9 175.8,963.9 176.6,963.2 177.2,962.5 177.6,961.7 177.8,960.6 178.2,959.5 178.6,958.3 179.1,957.2 179.4,956.2 179.6,955.2 179.8,954.2 180.1,953.5 180.5,952.9 180.6,952.5 180.6,951.9 180.5,951.1 180.4,949.9 180.5,948.8 180.7,947.8 180.9,947.0 181.0,946.4 181.0,945.7 180.8,944.7 180.6,943.3 180.6,941.7 181.1,940.1 181.7,938.9 182.2,937.9 182.5,937.3 182.4,936.7 181.9,936.1 181.4,935.3 181.2,934.4 181.3,933.5 181.7,932.6 182.2,931.7 182.5,930.9 182.6,930.0 182.5,929.2 182.4,928.5 182.4,927.8 182.5,927.0 182.5,926.2 182.5,925.3Z" fill="#fbf4f6" />
<path d="M168.3,934.2 168.7,933.9 169.0,933.3 169.5,932.2 170.8,931.5 172.0,931.2 172.9,931.4 173.7,931.7 174.3,931.5 174.8,931.1 175.6,930.7 177.0,930.4 178.4,930.2 179.3,929.6 179.7,928.8 180.3,928.4 180.9,929.6 181.6,930.8 182.2,931.7 181.7,932.6 181.3,933.5 181.2,934.4 181.4,935.3 181.9,936.1 182.4,936.7 182.5,937.3 182.2,937.9 181.7,938.9 181.1,940.1 180.6,941.7 180.6,943.3 180.8,944.7 180.3,943.8 180.0,943.2 179.2,943.2 178.2,943.2 177.0,942.9 175.6,942.7 174.0,943.0 172.7,943.4 172.1,943.4 171.6,942.9 170.7,942.4 169.7,941.7 169.2,940.8 169.1,940.0 168.8,939.9 168.7,939.6 168.6,939.1 168.6,938.3 168.6,937.2 168.5,936.0 168.4,935.0Z" fill="#fbf4f6" />
<path d="M173.3,931.7 L173.3,943 M168.5,937 L181.5,937" fill="none" stroke-width="0.4"/>
<ellipse cx="173.3" cy="936.6" rx="3.3" ry="1.9" fill="#dfb2c7"/>
<path d="M214.0,1024.4 214.9,1024.6 215.6,1024.6 216.2,1024.0 216.8,1023.0 217.4,1022.9 218.0,1023.2 218.5,1024.1 219.3,1025.1 220.5,1025.9 220.9,1026.7 221.0,1027.5 220.8,1028.1 220.5,1028.7 220.2,1029.4 220.0,1030.3 220.0,1031.5 220.1,1032.8 219.9,1033.9 219.5,1034.5 218.4,1034.5 216.9,1034.9 215.8,1035.6 215.1,1035.1 214.7,1034.4 214.4,1033.5 214.1,1032.7 213.8,1032.0 213.6,1031.3 213.5,1030.4 213.3,1029.5 213.2,1028.4 213.2,1027.3 213.4,1026.2 213.7,1025.3 213.9,1024.8Z" fill="#dfb2c7" />
<path d="M221.6,1019.2 222.6,1018.8 223.4,1018.5 224.1,1018.2 224.6,1018.7 224.7,1019.4 224.9,1020.3 225.1,1021.2 225.4,1022.0 225.8,1022.8 226.1,1023.4 227.2,1023.5 227.9,1023.7 228.3,1023.9 229.1,1023.9 229.9,1024.3 230.7,1025.0 231.4,1025.9 232.0,1026.7 231.2,1026.2 230.1,1026.0 228.8,1026.5 227.6,1027.1 226.8,1027.4 226.3,1027.2 225.6,1026.9 224.7,1027.0 223.6,1027.5 222.8,1027.2 222.5,1026.6 222.4,1026.1 222.2,1026.0 221.9,1025.2 221.5,1024.5 221.4,1023.8 221.6,1022.9 221.7,1022.2 221.7,1021.2 221.7,1020.2Z" fill="#dfb2c7" />
<circle cx="229.3" cy="1035.8" r="2.2" fill="#dfb2c7"/>
<path d="M214.3,1054.6 215.2,1054.4 216.2,1053.9 217.3,1053.2 218.0,1053.1 218.4,1053.6 218.8,1054.5 219.7,1055.1 220.5,1055.8 221.1,1056.2 221.5,1056.8 221.9,1057.4 222.6,1058.0 223.9,1057.2 225.0,1056.6 225.6,1056.2 225.6,1056.8 225.4,1057.4 224.9,1058.0 224.6,1058.9 224.3,1059.9 224.4,1060.8 225.0,1061.6 226.0,1062.2 226.5,1063.1 227.1,1063.9 227.4,1064.7 227.5,1065.4 227.4,1066.2 227.0,1066.8 226.7,1067.5 226.4,1068.2 225.7,1067.5 224.6,1066.9 223.5,1066.3 222.4,1066.0 221.3,1066.3 220.1,1067.0 219.1,1067.4 218.6,1066.6 218.4,1065.5 218.4,1064.5 218.5,1063.9 218.9,1063.1 219.6,1062.3 219.7,1061.5 219.3,1061.3 218.4,1061.2 217.3,1060.8 216.5,1059.9 216.1,1058.7 215.9,1057.4 215.7,1056.6 215.5,1055.9 215.2,1055.4 214.7,1055.0Z" fill="#fbf4f6" />
<path d="M216.8,1079.9 217.8,1080.0 218.5,1080.4 219.1,1081.4 219.8,1082.5 220.7,1083.0 221.4,1083.0 221.7,1082.7 222.0,1082.7 223.0,1082.6 224.7,1082.6 226.1,1082.8 226.7,1083.2 226.9,1083.4 227.3,1083.3 228.1,1083.4 229.0,1084.0 230.3,1084.9 231.9,1085.4 233.2,1085.5 233.6,1085.7 233.6,1086.7 234.0,1087.8 234.9,1088.3 235.8,1088.6 236.4,1089.0 237.3,1089.6 238.5,1090.1 239.7,1090.7 240.3,1091.6 240.5,1092.5 240.9,1092.9 241.7,1093.1 242.6,1093.6 243.5,1094.5 244.6,1095.4 245.8,1095.9 246.6,1096.1 246.8,1096.7 247.1,1097.7 247.9,1098.3 249.2,1098.5 249.6,1099.0 249.8,1099.5 249.8,1100.4 250.0,1101.3 250.6,1102.3 251.6,1103.1 252.5,1103.9 253.2,1104.6 252.3,1105.7 251.4,1106.9 250.7,1107.8 250.4,1108.4 250.2,1108.7 249.7,1109.2 248.8,1110.1 247.7,1111.4 246.8,1112.8 246.4,1113.9 246.5,1114.3 246.5,1114.5 246.0,1115.0 245.0,1116.0 244.2,1117.1 243.8,1117.8 243.8,1118.0 243.6,1118.2 243.0,1118.9 242.2,1120.1 241.4,1121.5 241.0,1122.5 240.9,1123.2 240.7,1123.6 240.3,1124.3 239.7,1125.6 239.0,1126.9 238.4,1127.8 238.1,1128.3 237.9,1128.7 237.6,1129.5 237.3,1130.7 236.7,1131.7 236.3,1132.5 235.8,1132.9 235.0,1133.4 233.9,1134.3 232.9,1135.4 232.1,1136.2 231.1,1135.6 230.3,1135.1 229.3,1135.2 228.1,1135.4 227.1,1135.3 226.4,1134.9 226.4,1134.2 226.4,1133.7 225.3,1133.9 224.3,1134.1 223.5,1134.2 222.4,1134.3 220.9,1134.4 219.5,1134.1 218.8,1133.4 218.3,1133.1 217.4,1133.6 216.1,1134.4 214.9,1134.5 214.1,1134.2 213.4,1134.1 212.6,1134.3 212.0,1134.2 211.3,1133.9 210.1,1133.7 208.4,1133.7 209.0,1133.2 209.4,1132.7 209.7,1132.0 209.9,1131.1 210.1,1129.9 210.4,1128.8 210.8,1127.8 211.2,1127.1 211.5,1126.3 211.6,1125.5 211.6,1124.5 211.7,1123.4 211.9,1122.6 212.2,1121.9 212.4,1121.3 212.5,1120.5 212.7,1119.5 213.2,1118.1 214.0,1116.7 215.1,1115.8 215.8,1115.5 216.0,1115.3 215.9,1114.6 215.7,1113.3 214.9,1113.1 214.0,1112.8 213.4,1112.1 213.2,1110.9 213.3,1109.6 213.1,1108.7 212.7,1108.2 212.1,1107.9 211.7,1107.3 211.4,1106.4 211.1,1105.3 210.5,1104.1 209.8,1103.0 209.2,1102.1 208.7,1101.2 208.6,1100.3 208.8,1099.4 209.2,1098.4 209.6,1097.3 209.8,1096.3 209.6,1095.3 209.0,1094.6 208.3,1094.0 207.6,1093.5 208.0,1092.9 208.6,1092.1 209.4,1091.1 210.1,1090.2 210.6,1089.4 210.9,1088.9 211.3,1088.3 211.9,1087.8 212.7,1086.9 213.5,1085.8 214.3,1085.0 214.8,1084.3 214.9,1083.5 215.2,1082.7 215.7,1081.8 216.3,1080.8Z" fill="#fbf4f6" />
<path d="M215.0,1157.8 216.3,1157.1 217.5,1156.5 218.3,1156.2 218.4,1155.8 218.4,1155.2 219.3,1154.5 220.6,1153.8 221.9,1153.5 222.8,1153.5 223.2,1153.3 223.8,1153.1 224.7,1152.8 225.6,1153.0 226.7,1153.5 227.9,1153.8 228.7,1154.1 229.1,1155.3 229.5,1156.8 230.2,1157.9 231.1,1158.5 231.8,1158.6 232.0,1158.9 232.2,1159.3 232.4,1160.0 232.9,1160.8 233.6,1161.5 233.5,1162.4 233.5,1163.6 233.5,1164.8 233.3,1166.0 233.1,1166.9 232.9,1167.4 232.9,1167.7 231.4,1168.0 229.9,1168.3 228.9,1168.4 228.4,1168.5 228.1,1168.3 227.5,1168.4 226.8,1168.2 226.1,1167.7 225.2,1167.3 223.9,1167.3 222.8,1167.0 222.1,1166.4 221.5,1165.5 220.6,1164.5 219.7,1163.5 219.2,1162.5 219.0,1161.6 218.5,1161.0 217.8,1160.8 216.7,1160.5 215.8,1160.0 215.2,1159.1Z" fill="#a73a6b" />
<path d="M222.0,1174.5 223.1,1174.9 223.7,1175.5 224.2,1175.9 224.8,1176.2 225.5,1176.6 226.2,1177.4 227.0,1178.2 228.1,1178.6 227.4,1179.2 226.9,1180.2 226.9,1181.3 226.9,1182.3 226.8,1183.1 226.5,1183.5 226.1,1183.8 225.5,1183.4 224.8,1183.1 224.0,1183.1 223.9,1182.3 223.8,1181.7 223.7,1180.9 223.6,1179.9 223.0,1178.9 222.7,1177.9 222.6,1176.8 222.6,1175.9 222.4,1175.1Z" fill="#fbf4f6" />
</g>
<rect x="207" y="1130.6" width="19" height="5" fill="#fff"/>
<g fill="#4a1230"><ellipse cx="204.3" cy="1008.6" rx="2.4" ry="0.8" transform="rotate(-25 204.3 1008.6)"/><ellipse cx="210.7" cy="1014" rx="1.3" ry="0.7" transform="rotate(20 210.7 1014)"/><ellipse cx="200" cy="1023.8" rx="0.7" ry="1.4" transform="rotate(0 200 1023.8)"/><ellipse cx="235.8" cy="1024" rx="1.8" ry="0.6" transform="rotate(-30 235.8 1024)"/><ellipse cx="219.3" cy="1038" rx="1.4" ry="0.6" transform="rotate(-20 219.3 1038)"/><ellipse cx="251.9" cy="1016.6" rx="2" ry="1.2" transform="rotate(35 251.9 1016.6)"/><ellipse cx="246.5" cy="1007" rx="1" ry="0.6" transform="rotate(30 246.5 1007)"/><ellipse cx="253.5" cy="1011.5" rx="0.8" ry="1" transform="rotate(0 253.5 1011.5)"/></g>
<g fill="#a73a6b"><ellipse cx="270.3" cy="1029" rx="0.9" ry="1.8" transform="rotate(-25 270.3 1029)"/><ellipse cx="267.7" cy="1037" rx="1.3" ry="0.8" transform="rotate(30 267.7 1037)"/><ellipse cx="279" cy="1052.5" rx="0.8" ry="1.6"/><ellipse cx="281" cy="1066" rx="0.8" ry="2" transform="rotate(-15 281 1066)"/></g>
<path d="M221,945.7 L221,965.7 L202,976.3" fill="none" stroke="#8d7a86" stroke-width="0.7"/>
<rect x="65.5" y="970.5" width="111.5" height="190" fill="#e8e3e6"/>
<rect x="66.3" y="971.3" width="110" height="188.4" fill="#fff"/>
<rect x="79.6" y="1013.6" width="19.5" height="10.5" fill="#faf2f4" stroke="#cfc4ca" stroke-width="0.6"/>
<rect x="79.6" y="1031.2" width="19.5" height="10.5" fill="#b48fa3" stroke="none" stroke-width="0.6"/>
<rect x="79.6" y="1048.9" width="19.5" height="10.5" fill="#c9809f" stroke="none" stroke-width="0.6"/>
<rect x="79.6" y="1066.5" width="19.5" height="10.5" fill="#a6376a" stroke="none" stroke-width="0.6"/>
<rect x="79.6" y="1084.2" width="19.5" height="10.5" fill="#85003f" stroke="none" stroke-width="0.6"/>
<circle cx="472.9" cy="1173.6" r="0.7" fill="#e6177a"/><circle cx="465" cy="1177" r="1" fill="#27d7ef"/><circle cx="473" cy="1177.3" r="1.4" fill="#1a2bd0"/><circle cx="468" cy="1180.4" r="1.2" fill="#1a2bd0"/><circle cx="461.3" cy="1185" r="0.6" fill="#27d7ef"/><circle cx="465.6" cy="1185" r="2" fill="#1a2bd0"/><circle cx="473" cy="1185" r="1.5" fill="#e6177a"/><circle cx="468" cy="1189.4" r="1.2" fill="#1a2bd0"/><circle cx="465" cy="1192.4" r="1" fill="#27d7ef"/><circle cx="473" cy="1192.4" r="1.4" fill="#1a2bd0"/><circle cx="473" cy="1195.8" r="0.7" fill="#e6177a"/>
</svg>

<table><tr><td class="n">Cher</td><td class="v">62,5 %</td></tr><tr><td class="n">Eure-et-Loir</td><td class="v">54,8 %</td></tr><tr><td class="n">Indre</td><td class="v">58,7 %</td></tr><tr><td class="n">Indre-et-Loire</td><td class="v">62,7 %</td></tr><tr><td class="n">Loir-et-Cher</td><td class="v">64 %</td></tr><tr><td class="n">Loiret</td><td class="v">54,8 %</td></tr><tr><td class="n">CVL</td><td class="v">59 %</td></tr><tr><td class="n">France</td><td class="v">60,9 %</td></tr></table>
<span class="t" style="left:20.90px;top:49.64px;font-size:8.7px;line-height:8.7px;color:#1a1a1a;font-weight:700;transform:scaleX(0.8815);transform-origin:0 0;">RÉPUBLIQUE</span>
<span class="t" style="left:20.90px;top:58.14px;font-size:8.7px;line-height:8.7px;color:#1a1a1a;font-weight:700;transform:scaleX(0.9215);transform-origin:0 0;">FRANÇAISE</span>
<span class="t" style="left:22.06px;top:68.80px;font-size:5.2px;line-height:5.2px;color:#333;font-style:italic;font-family:'Liberation Serif',serif;transform:scaleX(0.7606);transform-origin:0 0;">Liberté</span>
<span class="t" style="left:22.06px;top:74.00px;font-size:5.2px;line-height:5.2px;color:#333;font-style:italic;font-family:'Liberation Serif',serif;transform:scaleX(0.7613);transform-origin:0 0;">Égalité</span>
<span class="t" style="left:22.13px;top:79.20px;font-size:5.2px;line-height:5.2px;color:#333;font-style:italic;font-family:'Liberation Serif',serif;transform:scaleX(0.8339);transform-origin:0 0;">Fraternité</span>
<span class="t" style="left:94.60px;top:64.26px;font-size:5.6px;line-height:5.6px;color:#1b4f9c;transform:scaleX(0.6742);transform-origin:0 0;">Agence Régionale de Santé</span>
<span class="t" style="left:86.20px;top:71.56px;font-size:5.6px;line-height:5.6px;color:#1b4f9c;transform:scaleX(0.7086);transform-origin:0 0;">Centre-Val de Loire</span>
<span class="t" style="left:170.19px;top:31.00px;font-size:15px;line-height:15px;color:#1f2a6b;font-weight:700;transform:scaleX(1.1079);transform-origin:0 0;">DÉPISTAGE</span>
<span class="t" style="left:204.80px;top:46.19px;font-size:16.2px;line-height:16.2px;color:#1f2a6b;font-weight:700;transform:scaleX(0.9919);transform-origin:0 0;">CANCERS</span>
<span class="t" style="left:170.31px;top:46.19px;font-size:16.2px;line-height:16.2px;color:#1f2a6b;transform:scaleX(0.9877);transform-origin:0 0;">DES</span>
<span class="t" style="left:171.30px;top:64.45px;font-size:12.7px;line-height:12.7px;color:#7a1f5c;-webkit-text-stroke:0.15px #7a1f5c;transform:scaleX(0.9718);transform-origin:0 0;">Centre de coordination</span>
<span class="t" style="left:171.30px;top:77.79px;font-size:12.3px;line-height:12.3px;color:#7a1f5c;font-weight:700;transform:scaleX(0.9596);transform-origin:0 0;">Centre-Val de Loire</span>
<span class="t" style="left:690.00px;top:43.96px;font-size:15.4px;line-height:15.4px;-webkit-text-stroke:0.12px #6b1349;letter-spacing:0.508px;">Communiqué de presse</span>
<span class="t" style="left:772.50px;top:62.96px;font-size:15.4px;line-height:15.4px;-webkit-text-stroke:0.12px #6b1349;letter-spacing:0.220px;">Janvier 2026</span>
<span class="t" style="left:140.00px;top:129.77px;font-size:26.5px;line-height:26.5px;color:#fff;font-weight:700;letter-spacing:0.246px;">DÉPISTAGE DU CANCER DU COL DE L’UTÉRUS</span>
<span class="t" style="left:78.50px;top:191.29px;font-size:18.2px;line-height:18.2px;font-weight:700;letter-spacing:0.250px;transform:scaleX(1.0646);transform-origin:0 0;">59 % des femmes en région Centre-Val de Loire se font dépister régulièrement !</span>
<span class="t" style="left:101.98px;top:222.96px;font-size:19.3px;line-height:19.3px;font-weight:700;letter-spacing:0.200px;transform:scaleX(1.0184);transform-origin:0 0;">Des résultats encourageants, une participation à renforcer pour atteindre</span>
<span class="t" style="left:172.99px;top:245.96px;font-size:19.3px;line-height:19.3px;font-weight:700;letter-spacing:0.200px;transform:scaleX(1.0095);transform-origin:0 0;">l’objectif de 80 % et garantir l’égalité d’accès au dépistage.</span>
<span class="t" style="left:54.00px;top:290.63px;font-size:15.8px;line-height:15.8px;-webkit-text-stroke:0.4px #6b1349;letter-spacing:0.360px;word-spacing:0.897px;">Le programme national de dépistage du cancer du col de l’utérus a été mis en place en 2019. Il s’adresse</span>
<span class="t" style="left:55.00px;top:310.03px;font-size:15.8px;line-height:15.8px;-webkit-text-stroke:0.4px #6b1349;letter-spacing:0.360px;word-spacing:0.721px;">à toutes les femmes entre 25 et 65 ans, y compris les femmes enceintes, les femmes ménopausées et les</span>
<span class="t" style="left:55.00px;top:329.43px;font-size:15.8px;line-height:15.8px;-webkit-text-stroke:0.4px #6b1349;letter-spacing:0.241px;">femmes vaccinées contre les infections à HPV.</span>
<span class="t" style="left:54.00px;top:373.33px;font-size:15.8px;line-height:15.8px;-webkit-text-stroke:0.4px #6b1349;letter-spacing:0.174px;">Les chiffres du cancer du col de l’utérus en France :</span>
<span class="t" style="left:148.34px;top:410.66px;font-size:47.3px;line-height:47.3px;color:#fff;font-weight:700;transform:scaleX(0.9642);transform-origin:0 0;">3 159</span>
<span class="t" style="left:144.00px;top:469.63px;font-size:15.8px;line-height:15.8px;color:#fff;-webkit-text-stroke:0.2px #fff;letter-spacing:0.138px;">nouveaux cas de</span>
<span class="t" style="left:146.00px;top:486.63px;font-size:15.8px;line-height:15.8px;color:#fff;-webkit-text-stroke:0.2px #fff;letter-spacing:0.124px;">cancer du col de</span>
<span class="t" style="left:150.50px;top:503.63px;font-size:15.8px;line-height:15.8px;color:#fff;-webkit-text-stroke:0.2px #fff;letter-spacing:0.228px;">l’utérus en <span style="font-size:12.4px">2023</span></span>
<span class="t" style="left:330.96px;top:424.56px;font-size:47.3px;line-height:47.3px;color:#fff;font-weight:700;transform:scaleX(1.0376);transform-origin:0 0;">836</span>
<span class="t" style="left:319.90px;top:482.63px;font-size:15.8px;line-height:15.8px;color:#fff;-webkit-text-stroke:0.2px #fff;letter-spacing:0.069px;">décès en 2022</span>
<span class="t" style="left:489.29px;top:416.26px;font-size:47.3px;line-height:47.3px;color:#fff;font-weight:700;transform:scaleX(1.0079);transform-origin:0 0;">55</span>
<span class="t" style="left:543.50px;top:442.93px;font-size:15.8px;line-height:15.8px;color:#fff;-webkit-text-stroke:0.2px #fff;letter-spacing:-0.543px;">ans</span>
<span class="t" style="left:476.40px;top:474.13px;font-size:15.8px;line-height:15.8px;color:#fff;-webkit-text-stroke:0.2px #fff;letter-spacing:0.072px;">âge médian au</span>
<span class="t" style="left:491.00px;top:491.93px;font-size:15.8px;line-height:15.8px;color:#fff;-webkit-text-stroke:0.2px #fff;letter-spacing:0.362px;">diagnostic</span>
<span class="t" style="left:621.38px;top:416.26px;font-size:47.3px;line-height:47.3px;color:#fff;font-weight:700;transform:scaleX(1.0248);transform-origin:0 0;">32 000</span>
<span class="t" style="left:654.40px;top:474.13px;font-size:15.8px;line-height:15.8px;color:#fff;-webkit-text-stroke:0.2px #fff;letter-spacing:0.019px;">lésions pré-</span>
<span class="t" style="left:637.00px;top:491.93px;font-size:15.8px;line-height:15.8px;color:#fff;-webkit-text-stroke:0.2px #fff;letter-spacing:-0.022px;">cancéreuses*/an</span>
<span class="t" style="left:81.30px;top:567.16px;font-size:20.6px;line-height:20.6px;color:#fff;-webkit-text-stroke:0.15px #fff;letter-spacing:0.140px;">Participation au dépistage du cancer du col de l&#x27;utérus</span>
<span class="t" style="left:75.70px;top:617.63px;font-size:15.8px;line-height:15.8px;-webkit-text-stroke:0.42px #6b1349;letter-spacing:0.360px;word-spacing:-0.847px;">Le taux de femmes réalisant un dépistage pour le cancer du col de l’utérus à l’échelle nationale en 2024</span>
<span class="t" style="left:76.70px;top:637.23px;font-size:15.8px;line-height:15.8px;-webkit-text-stroke:0.42px #6b1349;letter-spacing:0.360px;word-spacing:0.098px;">est de 60,9 % en augmentation constante depuis 2020 mais reste toujours inférieur au seuil européen</span>
<span class="t" style="left:76.70px;top:656.63px;font-size:15.8px;line-height:15.8px;-webkit-text-stroke:0.42px #6b1349;letter-spacing:0.180px;">acceptable de 70 %.</span>
<span class="t" style="left:75.70px;top:684.93px;font-size:15.8px;line-height:15.8px;-webkit-text-stroke:0.42px #6b1349;letter-spacing:0.360px;word-spacing:-0.458px;">Depuis 2023, la participation a progressé dans toutes les tranches d’âge, y compris chez les 60-65 ans</span>
<span class="t" style="left:76.70px;top:704.33px;font-size:15.8px;line-height:15.8px;-webkit-text-stroke:0.42px #6b1349;letter-spacing:0.158px;">(+4,8 points).</span>
<span class="t" style="left:75.70px;top:732.63px;font-size:15.8px;line-height:15.8px;-webkit-text-stroke:0.42px #6b1349;letter-spacing:0.360px;word-spacing:-0.384px;">La région CVL se situe au 11<span style="font-size:9.2px;position:relative;top:-5.2px">e</span> rang sur les 13 régions de métropole, en augmentation constante depuis</span>
<span class="t" style="left:76.70px;top:752.33px;font-size:15.8px;line-height:15.8px;-webkit-text-stroke:0.42px #6b1349;letter-spacing:0.258px;">2020 avec un taux de participation à 59 % (+5,1 points par rapport à 2023).</span>
<span class="t" style="left:114.00px;top:811.30px;font-size:13px;line-height:13px;letter-spacing:0.024px;">Programme de dépistage organisé du cancer du col de l’utérus. Taux de</span>
<span class="t" style="left:132.30px;top:825.70px;font-size:13px;line-height:13px;letter-spacing:0.118px;">participation départementaux standardisés*, France entière 2024</span>
<span class="t" style="left:589.00px;top:844.00px;font-size:13px;line-height:13px;letter-spacing:0.149px;">Taux de participation au dépistage</span>
<span class="t" style="left:585.00px;top:859.50px;font-size:13px;line-height:13px;letter-spacing:0.047px;">du cancer du col de l’utérus en 2024</span>
<span class="t" style="left:113.30px;top:866.79px;font-size:9.7px;line-height:9.7px;color:#1b50a6;font-weight:700;-webkit-text-stroke:0.12px #1b50a6;letter-spacing:0.029px;">Carte 1. Programme de dépistage organisé du cancer du col de l’utérus. Taux de participation</span>
<span class="t" style="left:113.30px;top:878.49px;font-size:9.7px;line-height:9.7px;color:#1b50a6;font-weight:700;-webkit-text-stroke:0.12px #1b50a6;letter-spacing:0.010px;">départementaux standardisés*, France entière, 2024</span>
<span class="t" style="left:79.60px;top:983.23px;font-size:8px;line-height:8px;color:#2b2b2b;font-weight:700;letter-spacing:-0.079px;">Taux de participation</span>
<span class="t" style="left:79.60px;top:992.53px;font-size:8px;line-height:8px;color:#2b2b2b;font-weight:700;letter-spacing:-0.358px;">standardisés (%)</span>
<span class="t" style="left:103.70px;top:1015.32px;font-size:8.6px;line-height:8.6px;color:#2b2b2b;letter-spacing:0.109px;">[17,4 - 55,0[</span>
<span class="t" style="left:103.70px;top:1032.97px;font-size:8.6px;line-height:8.6px;color:#2b2b2b;letter-spacing:0.109px;">[55,0 - 60,0[</span>
<span class="t" style="left:103.70px;top:1050.62px;font-size:8.6px;line-height:8.6px;color:#2b2b2b;letter-spacing:0.109px;">[60,0 - 65,0[</span>
<span class="t" style="left:103.70px;top:1068.27px;font-size:8.6px;line-height:8.6px;color:#2b2b2b;letter-spacing:0.109px;">[65,0 - 70,0[</span>
<span class="t" style="left:103.70px;top:1085.92px;font-size:8.6px;line-height:8.6px;color:#2b2b2b;letter-spacing:0.193px;">[70,0 - 73,5]</span>
<span class="t" style="left:79.80px;top:1110.40px;font-size:7.8px;line-height:7.8px;color:#2b2b2b;letter-spacing:0.113px;">*Standardisation sur la</span>
<span class="t" style="left:79.80px;top:1119.50px;font-size:7.8px;line-height:7.8px;color:#2b2b2b;letter-spacing:-0.066px;">population française</span>
<span class="t" style="left:79.80px;top:1128.60px;font-size:7.8px;line-height:7.8px;color:#2b2b2b;letter-spacing:-0.049px;">2015 des 25-65 ans</span>
<span class="t" style="left:79.80px;top:1137.70px;font-size:7.8px;line-height:7.8px;color:#2b2b2b;letter-spacing:-0.134px;">(Insee, RP 2025)</span>
<span class="t" style="left:317.30px;top:1185.20px;font-size:5.2px;line-height:5.2px;color:#222;font-style:italic;transform:scaleX(0.9716);transform-origin:0 0;">Source : Ign-GéoFLA, 2014 ; Santé publique France, 09/2025</span>
<span class="t" style="left:317.30px;top:1191.40px;font-size:5.2px;line-height:5.2px;color:#222;font-style:italic;transform:scaleX(0.9774);transform-origin:0 0;">Données issues du SNDS, et ELP Insee (non consolidées).</span>
<span class="t" style="left:478.20px;top:1175.91px;font-size:6.6px;line-height:6.6px;color:#2a2a3a;font-weight:700;transform:scaleX(0.8852);transform-origin:0 0;">Santé</span>
<span class="t" style="left:478.20px;top:1181.91px;font-size:6.6px;line-height:6.6px;color:#2a2a3a;font-weight:700;transform:scaleX(0.8700);transform-origin:0 0;">publique</span>
<span class="t" style="left:478.20px;top:1188.78px;font-size:6.4px;line-height:6.4px;color:#9a9aa2;transform:scaleX(0.7573);transform-origin:0 0;">France</span>
<span class="t" style="left:216.00px;top:1140.77px;font-size:5px;line-height:5px;color:#222;font-weight:700;letter-spacing:0.310px;">al -</span>
<span class="t" style="left:201.00px;top:1148.69px;font-size:4.5px;line-height:4.5px;color:#333;font-style:italic;letter-spacing:-1.013px;">7e</span>
<span class="t" style="left:46.50px;top:1244.48px;font-size:12.9px;line-height:12.9px;font-style:italic;letter-spacing:-0.184px;">* lésions susceptibles d’évoluer en cancer</span>
<span class="t" style="left:841.20px;top:1233.79px;font-size:17.5px;line-height:17.5px;color:#111;letter-spacing:0.000px;">1</span>
</body></html>
